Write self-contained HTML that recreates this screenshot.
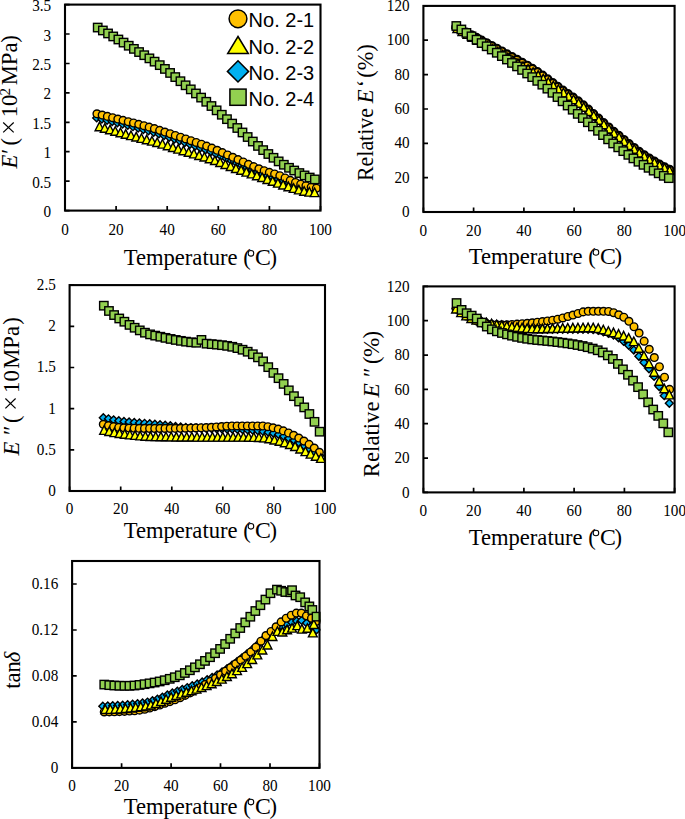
<!DOCTYPE html><html><head><meta charset="utf-8"><style>html,body{margin:0;padding:0;background:#fff;}svg{display:block;}</style></head><body>
<svg width="685" height="819" viewBox="0 0 685 819">
<rect width="685" height="819" fill="#fff"/>
<clipPath id="c1"><rect x="64.0" y="3.6" width="257.5" height="208.0"/></clipPath>
<g clip-path="url(#c1)">
<path d="M96.68 113.95L100.63 117.90L96.68 121.85L92.73 117.90Z" fill="#00B0F0" stroke="#000" stroke-width="1.4" stroke-linejoin="miter"/>
<path d="M101.87 115.11L105.82 119.06L101.87 123.01L97.92 119.06Z" fill="#00B0F0" stroke="#000" stroke-width="1.4" stroke-linejoin="miter"/>
<path d="M107.05 116.31L111.00 120.26L107.05 124.21L103.10 120.26Z" fill="#00B0F0" stroke="#000" stroke-width="1.4" stroke-linejoin="miter"/>
<path d="M112.23 117.53L116.18 121.48L112.23 125.43L108.28 121.48Z" fill="#00B0F0" stroke="#000" stroke-width="1.4" stroke-linejoin="miter"/>
<path d="M117.41 118.79L121.36 122.74L117.41 126.69L113.46 122.74Z" fill="#00B0F0" stroke="#000" stroke-width="1.4" stroke-linejoin="miter"/>
<path d="M122.60 120.07L126.55 124.02L122.60 127.97L118.65 124.02Z" fill="#00B0F0" stroke="#000" stroke-width="1.4" stroke-linejoin="miter"/>
<path d="M127.78 121.39L131.73 125.34L127.78 129.29L123.83 125.34Z" fill="#00B0F0" stroke="#000" stroke-width="1.4" stroke-linejoin="miter"/>
<path d="M132.96 122.72L136.91 126.67L132.96 130.62L129.01 126.67Z" fill="#00B0F0" stroke="#000" stroke-width="1.4" stroke-linejoin="miter"/>
<path d="M138.15 124.09L142.10 128.04L138.15 131.99L134.20 128.04Z" fill="#00B0F0" stroke="#000" stroke-width="1.4" stroke-linejoin="miter"/>
<path d="M143.33 125.49L147.28 129.44L143.33 133.39L139.38 129.44Z" fill="#00B0F0" stroke="#000" stroke-width="1.4" stroke-linejoin="miter"/>
<path d="M148.51 126.92L152.46 130.87L148.51 134.82L144.56 130.87Z" fill="#00B0F0" stroke="#000" stroke-width="1.4" stroke-linejoin="miter"/>
<path d="M153.69 128.40L157.64 132.35L153.69 136.30L149.75 132.35Z" fill="#00B0F0" stroke="#000" stroke-width="1.4" stroke-linejoin="miter"/>
<path d="M158.88 129.94L162.83 133.89L158.88 137.84L154.93 133.89Z" fill="#00B0F0" stroke="#000" stroke-width="1.4" stroke-linejoin="miter"/>
<path d="M164.06 131.55L168.01 135.50L164.06 139.45L160.11 135.50Z" fill="#00B0F0" stroke="#000" stroke-width="1.4" stroke-linejoin="miter"/>
<path d="M169.24 133.25L173.19 137.20L169.24 141.15L165.29 137.20Z" fill="#00B0F0" stroke="#000" stroke-width="1.4" stroke-linejoin="miter"/>
<path d="M174.43 135.00L178.38 138.95L174.43 142.90L170.48 138.95Z" fill="#00B0F0" stroke="#000" stroke-width="1.4" stroke-linejoin="miter"/>
<path d="M179.61 136.78L183.56 140.73L179.61 144.68L175.66 140.73Z" fill="#00B0F0" stroke="#000" stroke-width="1.4" stroke-linejoin="miter"/>
<path d="M184.79 138.54L188.74 142.49L184.79 146.44L180.84 142.49Z" fill="#00B0F0" stroke="#000" stroke-width="1.4" stroke-linejoin="miter"/>
<path d="M189.98 140.31L193.93 144.26L189.98 148.21L186.03 144.26Z" fill="#00B0F0" stroke="#000" stroke-width="1.4" stroke-linejoin="miter"/>
<path d="M195.16 142.10L199.11 146.05L195.16 150.00L191.21 146.05Z" fill="#00B0F0" stroke="#000" stroke-width="1.4" stroke-linejoin="miter"/>
<path d="M200.34 143.93L204.29 147.88L200.34 151.83L196.39 147.88Z" fill="#00B0F0" stroke="#000" stroke-width="1.4" stroke-linejoin="miter"/>
<path d="M205.52 145.83L209.47 149.78L205.52 153.73L201.57 149.78Z" fill="#00B0F0" stroke="#000" stroke-width="1.4" stroke-linejoin="miter"/>
<path d="M210.71 147.83L214.66 151.78L210.71 155.73L206.76 151.78Z" fill="#00B0F0" stroke="#000" stroke-width="1.4" stroke-linejoin="miter"/>
<path d="M215.89 149.97L219.84 153.92L215.89 157.87L211.94 153.92Z" fill="#00B0F0" stroke="#000" stroke-width="1.4" stroke-linejoin="miter"/>
<path d="M221.07 152.24L225.02 156.19L221.07 160.14L217.12 156.19Z" fill="#00B0F0" stroke="#000" stroke-width="1.4" stroke-linejoin="miter"/>
<path d="M226.26 154.57L230.21 158.52L226.26 162.47L222.31 158.52Z" fill="#00B0F0" stroke="#000" stroke-width="1.4" stroke-linejoin="miter"/>
<path d="M231.44 156.89L235.39 160.84L231.44 164.79L227.49 160.84Z" fill="#00B0F0" stroke="#000" stroke-width="1.4" stroke-linejoin="miter"/>
<path d="M236.62 159.16L240.57 163.11L236.62 167.06L232.67 163.11Z" fill="#00B0F0" stroke="#000" stroke-width="1.4" stroke-linejoin="miter"/>
<path d="M241.81 161.44L245.76 165.39L241.81 169.34L237.86 165.39Z" fill="#00B0F0" stroke="#000" stroke-width="1.4" stroke-linejoin="miter"/>
<path d="M246.99 163.73L250.94 167.68L246.99 171.63L243.04 167.68Z" fill="#00B0F0" stroke="#000" stroke-width="1.4" stroke-linejoin="miter"/>
<path d="M252.17 165.98L256.12 169.93L252.17 173.88L248.22 169.93Z" fill="#00B0F0" stroke="#000" stroke-width="1.4" stroke-linejoin="miter"/>
<path d="M257.36 168.10L261.31 172.05L257.36 176.00L253.41 172.05Z" fill="#00B0F0" stroke="#000" stroke-width="1.4" stroke-linejoin="miter"/>
<path d="M262.54 170.02L266.49 173.97L262.54 177.92L258.59 173.97Z" fill="#00B0F0" stroke="#000" stroke-width="1.4" stroke-linejoin="miter"/>
<path d="M267.72 171.77L271.67 175.72L267.72 179.67L263.77 175.72Z" fill="#00B0F0" stroke="#000" stroke-width="1.4" stroke-linejoin="miter"/>
<path d="M272.90 173.42L276.85 177.37L272.90 181.32L268.95 177.37Z" fill="#00B0F0" stroke="#000" stroke-width="1.4" stroke-linejoin="miter"/>
<path d="M278.09 175.03L282.04 178.98L278.09 182.93L274.14 178.98Z" fill="#00B0F0" stroke="#000" stroke-width="1.4" stroke-linejoin="miter"/>
<path d="M283.27 176.70L287.22 180.65L283.27 184.60L279.32 180.65Z" fill="#00B0F0" stroke="#000" stroke-width="1.4" stroke-linejoin="miter"/>
<path d="M288.45 178.42L292.40 182.37L288.45 186.32L284.50 182.37Z" fill="#00B0F0" stroke="#000" stroke-width="1.4" stroke-linejoin="miter"/>
<path d="M293.64 180.13L297.59 184.08L293.64 188.03L289.69 184.08Z" fill="#00B0F0" stroke="#000" stroke-width="1.4" stroke-linejoin="miter"/>
<path d="M298.82 181.74L302.77 185.69L298.82 189.64L294.87 185.69Z" fill="#00B0F0" stroke="#000" stroke-width="1.4" stroke-linejoin="miter"/>
<path d="M304.00 183.25L307.95 187.20L304.00 191.15L300.05 187.20Z" fill="#00B0F0" stroke="#000" stroke-width="1.4" stroke-linejoin="miter"/>
<path d="M309.19 184.69L313.13 188.64L309.19 192.59L305.24 188.64Z" fill="#00B0F0" stroke="#000" stroke-width="1.4" stroke-linejoin="miter"/>
<path d="M314.37 186.05L318.32 190.00L314.37 193.95L310.42 190.00Z" fill="#00B0F0" stroke="#000" stroke-width="1.4" stroke-linejoin="miter"/>
<circle cx="96.94" cy="113.78" r="3.85" fill="#FFC000" stroke="#000" stroke-width="1.4"/>
<circle cx="102.16" cy="115.08" r="3.85" fill="#FFC000" stroke="#000" stroke-width="1.4"/>
<circle cx="107.39" cy="116.38" r="3.85" fill="#FFC000" stroke="#000" stroke-width="1.4"/>
<circle cx="112.61" cy="117.70" r="3.85" fill="#FFC000" stroke="#000" stroke-width="1.4"/>
<circle cx="117.84" cy="119.03" r="3.85" fill="#FFC000" stroke="#000" stroke-width="1.4"/>
<circle cx="123.07" cy="120.37" r="3.85" fill="#FFC000" stroke="#000" stroke-width="1.4"/>
<circle cx="128.29" cy="121.70" r="3.85" fill="#FFC000" stroke="#000" stroke-width="1.4"/>
<circle cx="133.52" cy="123.02" r="3.85" fill="#FFC000" stroke="#000" stroke-width="1.4"/>
<circle cx="138.74" cy="124.35" r="3.85" fill="#FFC000" stroke="#000" stroke-width="1.4"/>
<circle cx="143.97" cy="125.71" r="3.85" fill="#FFC000" stroke="#000" stroke-width="1.4"/>
<circle cx="149.19" cy="127.14" r="3.85" fill="#FFC000" stroke="#000" stroke-width="1.4"/>
<circle cx="154.42" cy="128.66" r="3.85" fill="#FFC000" stroke="#000" stroke-width="1.4"/>
<circle cx="159.64" cy="130.35" r="3.85" fill="#FFC000" stroke="#000" stroke-width="1.4"/>
<circle cx="164.87" cy="132.05" r="3.85" fill="#FFC000" stroke="#000" stroke-width="1.4"/>
<circle cx="170.10" cy="133.75" r="3.85" fill="#FFC000" stroke="#000" stroke-width="1.4"/>
<circle cx="175.32" cy="135.48" r="3.85" fill="#FFC000" stroke="#000" stroke-width="1.4"/>
<circle cx="180.55" cy="137.22" r="3.85" fill="#FFC000" stroke="#000" stroke-width="1.4"/>
<circle cx="185.77" cy="138.96" r="3.85" fill="#FFC000" stroke="#000" stroke-width="1.4"/>
<circle cx="191.00" cy="140.68" r="3.85" fill="#FFC000" stroke="#000" stroke-width="1.4"/>
<circle cx="196.22" cy="142.43" r="3.85" fill="#FFC000" stroke="#000" stroke-width="1.4"/>
<circle cx="201.45" cy="144.23" r="3.85" fill="#FFC000" stroke="#000" stroke-width="1.4"/>
<circle cx="206.67" cy="146.12" r="3.85" fill="#FFC000" stroke="#000" stroke-width="1.4"/>
<circle cx="211.90" cy="148.13" r="3.85" fill="#FFC000" stroke="#000" stroke-width="1.4"/>
<circle cx="217.13" cy="150.30" r="3.85" fill="#FFC000" stroke="#000" stroke-width="1.4"/>
<circle cx="222.35" cy="152.60" r="3.85" fill="#FFC000" stroke="#000" stroke-width="1.4"/>
<circle cx="227.58" cy="154.96" r="3.85" fill="#FFC000" stroke="#000" stroke-width="1.4"/>
<circle cx="232.80" cy="157.31" r="3.85" fill="#FFC000" stroke="#000" stroke-width="1.4"/>
<circle cx="238.03" cy="159.62" r="3.85" fill="#FFC000" stroke="#000" stroke-width="1.4"/>
<circle cx="243.25" cy="161.98" r="3.85" fill="#FFC000" stroke="#000" stroke-width="1.4"/>
<circle cx="248.48" cy="164.36" r="3.85" fill="#FFC000" stroke="#000" stroke-width="1.4"/>
<circle cx="253.71" cy="166.66" r="3.85" fill="#FFC000" stroke="#000" stroke-width="1.4"/>
<circle cx="258.93" cy="168.81" r="3.85" fill="#FFC000" stroke="#000" stroke-width="1.4"/>
<circle cx="264.16" cy="170.71" r="3.85" fill="#FFC000" stroke="#000" stroke-width="1.4"/>
<circle cx="269.38" cy="172.38" r="3.85" fill="#FFC000" stroke="#000" stroke-width="1.4"/>
<circle cx="274.61" cy="174.00" r="3.85" fill="#FFC000" stroke="#000" stroke-width="1.4"/>
<circle cx="279.83" cy="175.77" r="3.85" fill="#FFC000" stroke="#000" stroke-width="1.4"/>
<circle cx="285.06" cy="177.94" r="3.85" fill="#FFC000" stroke="#000" stroke-width="1.4"/>
<circle cx="290.28" cy="180.39" r="3.85" fill="#FFC000" stroke="#000" stroke-width="1.4"/>
<circle cx="295.51" cy="182.46" r="3.85" fill="#FFC000" stroke="#000" stroke-width="1.4"/>
<circle cx="300.74" cy="184.23" r="3.85" fill="#FFC000" stroke="#000" stroke-width="1.4"/>
<circle cx="305.96" cy="185.74" r="3.85" fill="#FFC000" stroke="#000" stroke-width="1.4"/>
<circle cx="311.19" cy="187.10" r="3.85" fill="#FFC000" stroke="#000" stroke-width="1.4"/>
<circle cx="316.41" cy="188.23" r="3.85" fill="#FFC000" stroke="#000" stroke-width="1.4"/>
<path d="M99.49 122.13L103.89 130.73L95.09 130.73Z" fill="#FFFF00" stroke="#000" stroke-width="1.4" stroke-linejoin="miter"/>
<path d="M104.74 123.67L109.14 132.27L100.34 132.27Z" fill="#FFFF00" stroke="#000" stroke-width="1.4" stroke-linejoin="miter"/>
<path d="M109.99 125.19L114.39 133.79L105.59 133.79Z" fill="#FFFF00" stroke="#000" stroke-width="1.4" stroke-linejoin="miter"/>
<path d="M115.23 126.68L119.63 135.28L110.83 135.28Z" fill="#FFFF00" stroke="#000" stroke-width="1.4" stroke-linejoin="miter"/>
<path d="M120.48 128.16L124.88 136.76L116.08 136.76Z" fill="#FFFF00" stroke="#000" stroke-width="1.4" stroke-linejoin="miter"/>
<path d="M125.73 129.62L130.13 138.22L121.33 138.22Z" fill="#FFFF00" stroke="#000" stroke-width="1.4" stroke-linejoin="miter"/>
<path d="M130.98 131.04L135.38 139.64L126.58 139.64Z" fill="#FFFF00" stroke="#000" stroke-width="1.4" stroke-linejoin="miter"/>
<path d="M136.22 132.41L140.62 141.01L131.82 141.01Z" fill="#FFFF00" stroke="#000" stroke-width="1.4" stroke-linejoin="miter"/>
<path d="M141.47 133.76L145.87 142.36L137.07 142.36Z" fill="#FFFF00" stroke="#000" stroke-width="1.4" stroke-linejoin="miter"/>
<path d="M146.72 135.11L151.12 143.71L142.32 143.71Z" fill="#FFFF00" stroke="#000" stroke-width="1.4" stroke-linejoin="miter"/>
<path d="M151.96 136.50L156.36 145.10L147.56 145.10Z" fill="#FFFF00" stroke="#000" stroke-width="1.4" stroke-linejoin="miter"/>
<path d="M157.21 137.95L161.61 146.55L152.81 146.55Z" fill="#FFFF00" stroke="#000" stroke-width="1.4" stroke-linejoin="miter"/>
<path d="M162.46 139.49L166.86 148.09L158.06 148.09Z" fill="#FFFF00" stroke="#000" stroke-width="1.4" stroke-linejoin="miter"/>
<path d="M167.70 141.14L172.10 149.74L163.30 149.74Z" fill="#FFFF00" stroke="#000" stroke-width="1.4" stroke-linejoin="miter"/>
<path d="M172.95 142.84L177.35 151.44L168.55 151.44Z" fill="#FFFF00" stroke="#000" stroke-width="1.4" stroke-linejoin="miter"/>
<path d="M178.20 144.53L182.60 153.13L173.80 153.13Z" fill="#FFFF00" stroke="#000" stroke-width="1.4" stroke-linejoin="miter"/>
<path d="M183.45 146.15L187.85 154.75L179.05 154.75Z" fill="#FFFF00" stroke="#000" stroke-width="1.4" stroke-linejoin="miter"/>
<path d="M188.69 147.72L193.09 156.32L184.29 156.32Z" fill="#FFFF00" stroke="#000" stroke-width="1.4" stroke-linejoin="miter"/>
<path d="M193.94 149.27L198.34 157.87L189.54 157.87Z" fill="#FFFF00" stroke="#000" stroke-width="1.4" stroke-linejoin="miter"/>
<path d="M199.19 150.84L203.59 159.44L194.79 159.44Z" fill="#FFFF00" stroke="#000" stroke-width="1.4" stroke-linejoin="miter"/>
<path d="M204.43 152.45L208.83 161.05L200.03 161.05Z" fill="#FFFF00" stroke="#000" stroke-width="1.4" stroke-linejoin="miter"/>
<path d="M209.68 154.15L214.08 162.75L205.28 162.75Z" fill="#FFFF00" stroke="#000" stroke-width="1.4" stroke-linejoin="miter"/>
<path d="M214.93 155.97L219.33 164.57L210.53 164.57Z" fill="#FFFF00" stroke="#000" stroke-width="1.4" stroke-linejoin="miter"/>
<path d="M220.18 157.91L224.58 166.51L215.78 166.51Z" fill="#FFFF00" stroke="#000" stroke-width="1.4" stroke-linejoin="miter"/>
<path d="M225.42 159.90L229.82 168.50L221.02 168.50Z" fill="#FFFF00" stroke="#000" stroke-width="1.4" stroke-linejoin="miter"/>
<path d="M230.67 161.89L235.07 170.49L226.27 170.49Z" fill="#FFFF00" stroke="#000" stroke-width="1.4" stroke-linejoin="miter"/>
<path d="M235.92 163.83L240.32 172.43L231.52 172.43Z" fill="#FFFF00" stroke="#000" stroke-width="1.4" stroke-linejoin="miter"/>
<path d="M241.16 165.69L245.56 174.29L236.76 174.29Z" fill="#FFFF00" stroke="#000" stroke-width="1.4" stroke-linejoin="miter"/>
<path d="M246.41 167.51L250.81 176.11L242.01 176.11Z" fill="#FFFF00" stroke="#000" stroke-width="1.4" stroke-linejoin="miter"/>
<path d="M251.66 169.32L256.06 177.92L247.26 177.92Z" fill="#FFFF00" stroke="#000" stroke-width="1.4" stroke-linejoin="miter"/>
<path d="M256.91 171.13L261.31 179.73L252.51 179.73Z" fill="#FFFF00" stroke="#000" stroke-width="1.4" stroke-linejoin="miter"/>
<path d="M262.15 172.96L266.55 181.56L257.75 181.56Z" fill="#FFFF00" stroke="#000" stroke-width="1.4" stroke-linejoin="miter"/>
<path d="M267.40 174.83L271.80 183.43L263.00 183.43Z" fill="#FFFF00" stroke="#000" stroke-width="1.4" stroke-linejoin="miter"/>
<path d="M272.65 176.71L277.05 185.31L268.25 185.31Z" fill="#FFFF00" stroke="#000" stroke-width="1.4" stroke-linejoin="miter"/>
<path d="M277.89 178.56L282.29 187.16L273.49 187.16Z" fill="#FFFF00" stroke="#000" stroke-width="1.4" stroke-linejoin="miter"/>
<path d="M283.14 180.35L287.54 188.95L278.74 188.95Z" fill="#FFFF00" stroke="#000" stroke-width="1.4" stroke-linejoin="miter"/>
<path d="M288.39 182.11L292.79 190.71L283.99 190.71Z" fill="#FFFF00" stroke="#000" stroke-width="1.4" stroke-linejoin="miter"/>
<path d="M293.64 183.79L298.04 192.39L289.24 192.39Z" fill="#FFFF00" stroke="#000" stroke-width="1.4" stroke-linejoin="miter"/>
<path d="M298.88 185.31L303.28 193.91L294.48 193.91Z" fill="#FFFF00" stroke="#000" stroke-width="1.4" stroke-linejoin="miter"/>
<path d="M304.13 186.68L308.53 195.28L299.73 195.28Z" fill="#FFFF00" stroke="#000" stroke-width="1.4" stroke-linejoin="miter"/>
<path d="M309.38 187.55L313.78 196.15L304.98 196.15Z" fill="#FFFF00" stroke="#000" stroke-width="1.4" stroke-linejoin="miter"/>
<path d="M314.62 188.05L319.02 196.65L310.22 196.65Z" fill="#FFFF00" stroke="#000" stroke-width="1.4" stroke-linejoin="miter"/>
<rect x="93.50" y="23.35" width="8.40" height="8.40" fill="#92D050" stroke="#000" stroke-width="1.4"/>
<rect x="98.67" y="26.28" width="8.40" height="8.40" fill="#92D050" stroke="#000" stroke-width="1.4"/>
<rect x="103.85" y="29.25" width="8.40" height="8.40" fill="#92D050" stroke="#000" stroke-width="1.4"/>
<rect x="109.02" y="32.25" width="8.40" height="8.40" fill="#92D050" stroke="#000" stroke-width="1.4"/>
<rect x="114.19" y="35.30" width="8.40" height="8.40" fill="#92D050" stroke="#000" stroke-width="1.4"/>
<rect x="119.36" y="38.39" width="8.40" height="8.40" fill="#92D050" stroke="#000" stroke-width="1.4"/>
<rect x="124.53" y="41.52" width="8.40" height="8.40" fill="#92D050" stroke="#000" stroke-width="1.4"/>
<rect x="129.70" y="44.68" width="8.40" height="8.40" fill="#92D050" stroke="#000" stroke-width="1.4"/>
<rect x="134.87" y="47.86" width="8.40" height="8.40" fill="#92D050" stroke="#000" stroke-width="1.4"/>
<rect x="140.04" y="50.99" width="8.40" height="8.40" fill="#92D050" stroke="#000" stroke-width="1.4"/>
<rect x="145.21" y="54.16" width="8.40" height="8.40" fill="#92D050" stroke="#000" stroke-width="1.4"/>
<rect x="150.38" y="57.45" width="8.40" height="8.40" fill="#92D050" stroke="#000" stroke-width="1.4"/>
<rect x="155.55" y="60.94" width="8.40" height="8.40" fill="#92D050" stroke="#000" stroke-width="1.4"/>
<rect x="160.72" y="64.73" width="8.40" height="8.40" fill="#92D050" stroke="#000" stroke-width="1.4"/>
<rect x="165.90" y="68.75" width="8.40" height="8.40" fill="#92D050" stroke="#000" stroke-width="1.4"/>
<rect x="171.07" y="72.88" width="8.40" height="8.40" fill="#92D050" stroke="#000" stroke-width="1.4"/>
<rect x="176.24" y="77.02" width="8.40" height="8.40" fill="#92D050" stroke="#000" stroke-width="1.4"/>
<rect x="181.41" y="81.10" width="8.40" height="8.40" fill="#92D050" stroke="#000" stroke-width="1.4"/>
<rect x="186.58" y="85.17" width="8.40" height="8.40" fill="#92D050" stroke="#000" stroke-width="1.4"/>
<rect x="191.75" y="89.26" width="8.40" height="8.40" fill="#92D050" stroke="#000" stroke-width="1.4"/>
<rect x="196.92" y="93.39" width="8.40" height="8.40" fill="#92D050" stroke="#000" stroke-width="1.4"/>
<rect x="202.09" y="97.57" width="8.40" height="8.40" fill="#92D050" stroke="#000" stroke-width="1.4"/>
<rect x="207.26" y="101.82" width="8.40" height="8.40" fill="#92D050" stroke="#000" stroke-width="1.4"/>
<rect x="212.43" y="106.15" width="8.40" height="8.40" fill="#92D050" stroke="#000" stroke-width="1.4"/>
<rect x="217.60" y="110.54" width="8.40" height="8.40" fill="#92D050" stroke="#000" stroke-width="1.4"/>
<rect x="222.77" y="114.97" width="8.40" height="8.40" fill="#92D050" stroke="#000" stroke-width="1.4"/>
<rect x="227.95" y="119.39" width="8.40" height="8.40" fill="#92D050" stroke="#000" stroke-width="1.4"/>
<rect x="233.12" y="123.79" width="8.40" height="8.40" fill="#92D050" stroke="#000" stroke-width="1.4"/>
<rect x="238.29" y="128.27" width="8.40" height="8.40" fill="#92D050" stroke="#000" stroke-width="1.4"/>
<rect x="243.46" y="132.82" width="8.40" height="8.40" fill="#92D050" stroke="#000" stroke-width="1.4"/>
<rect x="248.63" y="137.34" width="8.40" height="8.40" fill="#92D050" stroke="#000" stroke-width="1.4"/>
<rect x="253.80" y="141.73" width="8.40" height="8.40" fill="#92D050" stroke="#000" stroke-width="1.4"/>
<rect x="258.97" y="145.91" width="8.40" height="8.40" fill="#92D050" stroke="#000" stroke-width="1.4"/>
<rect x="264.14" y="149.81" width="8.40" height="8.40" fill="#92D050" stroke="#000" stroke-width="1.4"/>
<rect x="269.31" y="153.58" width="8.40" height="8.40" fill="#92D050" stroke="#000" stroke-width="1.4"/>
<rect x="274.48" y="157.19" width="8.40" height="8.40" fill="#92D050" stroke="#000" stroke-width="1.4"/>
<rect x="279.65" y="160.55" width="8.40" height="8.40" fill="#92D050" stroke="#000" stroke-width="1.4"/>
<rect x="284.82" y="163.58" width="8.40" height="8.40" fill="#92D050" stroke="#000" stroke-width="1.4"/>
<rect x="290.00" y="166.31" width="8.40" height="8.40" fill="#92D050" stroke="#000" stroke-width="1.4"/>
<rect x="295.17" y="168.86" width="8.40" height="8.40" fill="#92D050" stroke="#000" stroke-width="1.4"/>
<rect x="300.34" y="171.22" width="8.40" height="8.40" fill="#92D050" stroke="#000" stroke-width="1.4"/>
<rect x="305.51" y="173.34" width="8.40" height="8.40" fill="#92D050" stroke="#000" stroke-width="1.4"/>
<rect x="310.68" y="175.21" width="8.40" height="8.40" fill="#92D050" stroke="#000" stroke-width="1.4"/>
</g>
<path d="M65.0 210.6h4.6M65.0 181.2h4.6M65.0 151.7h4.6M65.0 122.3h4.6M65.0 92.9h4.6M65.0 63.5h4.6M65.0 34.0h4.6M65.0 4.6h4.6M65.0 210.6v-4.6M116.1 210.6v-4.6M167.2 210.6v-4.6M218.3 210.6v-4.6M269.4 210.6v-4.6M320.5 210.6v-4.6" stroke="#000" stroke-width="1.7" fill="none"/>
<rect x="65.0" y="4.6" width="255.5" height="206.0" fill="none" stroke="#000" stroke-width="2.1"/>
<text transform="translate(51.20,217.10) scale(0.97,1)" text-anchor="end" font-family='"Liberation Serif", serif' font-size="15.7">0</text>
<text transform="translate(51.20,187.67) scale(0.97,1)" text-anchor="end" font-family='"Liberation Serif", serif' font-size="15.7">0.5</text>
<text transform="translate(51.20,158.24) scale(0.97,1)" text-anchor="end" font-family='"Liberation Serif", serif' font-size="15.7">1</text>
<text transform="translate(51.20,128.81) scale(0.97,1)" text-anchor="end" font-family='"Liberation Serif", serif' font-size="15.7">1.5</text>
<text transform="translate(51.20,99.39) scale(0.97,1)" text-anchor="end" font-family='"Liberation Serif", serif' font-size="15.7">2</text>
<text transform="translate(51.20,69.96) scale(0.97,1)" text-anchor="end" font-family='"Liberation Serif", serif' font-size="15.7">2.5</text>
<text transform="translate(51.20,40.53) scale(0.97,1)" text-anchor="end" font-family='"Liberation Serif", serif' font-size="15.7">3</text>
<text transform="translate(51.20,11.10) scale(0.97,1)" text-anchor="end" font-family='"Liberation Serif", serif' font-size="15.7">3.5</text>
<text transform="translate(65.00,235.10) scale(0.97,1)" text-anchor="middle" font-family='"Liberation Serif", serif' font-size="15.7">0</text>
<text transform="translate(116.10,235.10) scale(0.97,1)" text-anchor="middle" font-family='"Liberation Serif", serif' font-size="15.7">20</text>
<text transform="translate(167.20,235.10) scale(0.97,1)" text-anchor="middle" font-family='"Liberation Serif", serif' font-size="15.7">40</text>
<text transform="translate(218.30,235.10) scale(0.97,1)" text-anchor="middle" font-family='"Liberation Serif", serif' font-size="15.7">60</text>
<text transform="translate(269.40,235.10) scale(0.97,1)" text-anchor="middle" font-family='"Liberation Serif", serif' font-size="15.7">80</text>
<text transform="translate(320.50,235.10) scale(0.97,1)" text-anchor="middle" font-family='"Liberation Serif", serif' font-size="15.7">100</text>
<text x="123.7" y="265.1" font-family='"Liberation Serif", serif' font-size="22.6">Temperature (</text>
<circle cx="250.95" cy="253.30" r="2.8" fill="none" stroke="#000" stroke-width="1.05"/>
<text x="254.90" y="265.1" font-family='"Liberation Serif", serif' font-size="23.8">C</text>
<text x="269.40" y="265.1" font-family='"Liberation Serif", serif' font-size="22.6">)</text>
<clipPath id="c2"><rect x="422.4" y="4.9" width="253.2" height="208.1"/></clipPath>
<g clip-path="url(#c2)">
<path d="M456.06 24.28L460.01 28.23L456.06 32.18L452.11 28.23Z" fill="#00B0F0" stroke="#000" stroke-width="1.4" stroke-linejoin="miter"/>
<path d="M461.14 27.27L465.09 31.22L461.14 35.17L457.19 31.22Z" fill="#00B0F0" stroke="#000" stroke-width="1.4" stroke-linejoin="miter"/>
<path d="M466.22 30.25L470.17 34.20L466.22 38.15L462.27 34.20Z" fill="#00B0F0" stroke="#000" stroke-width="1.4" stroke-linejoin="miter"/>
<path d="M471.31 33.22L475.26 37.17L471.31 41.12L467.36 37.17Z" fill="#00B0F0" stroke="#000" stroke-width="1.4" stroke-linejoin="miter"/>
<path d="M476.39 36.19L480.34 40.14L476.39 44.09L472.44 40.14Z" fill="#00B0F0" stroke="#000" stroke-width="1.4" stroke-linejoin="miter"/>
<path d="M481.48 39.15L485.43 43.10L481.48 47.05L477.53 43.10Z" fill="#00B0F0" stroke="#000" stroke-width="1.4" stroke-linejoin="miter"/>
<path d="M486.56 42.11L490.51 46.06L486.56 50.01L482.61 46.06Z" fill="#00B0F0" stroke="#000" stroke-width="1.4" stroke-linejoin="miter"/>
<path d="M491.64 45.06L495.59 49.01L491.64 52.96L487.69 49.01Z" fill="#00B0F0" stroke="#000" stroke-width="1.4" stroke-linejoin="miter"/>
<path d="M496.73 48.00L500.68 51.95L496.73 55.90L492.78 51.95Z" fill="#00B0F0" stroke="#000" stroke-width="1.4" stroke-linejoin="miter"/>
<path d="M501.81 50.93L505.76 54.88L501.81 58.83L497.86 54.88Z" fill="#00B0F0" stroke="#000" stroke-width="1.4" stroke-linejoin="miter"/>
<path d="M506.89 53.79L510.84 57.74L506.89 61.69L502.94 57.74Z" fill="#00B0F0" stroke="#000" stroke-width="1.4" stroke-linejoin="miter"/>
<path d="M511.98 56.62L515.93 60.57L511.98 64.52L508.03 60.57Z" fill="#00B0F0" stroke="#000" stroke-width="1.4" stroke-linejoin="miter"/>
<path d="M517.06 59.44L521.01 63.39L517.06 67.34L513.11 63.39Z" fill="#00B0F0" stroke="#000" stroke-width="1.4" stroke-linejoin="miter"/>
<path d="M522.15 62.30L526.10 66.25L522.15 70.20L518.20 66.25Z" fill="#00B0F0" stroke="#000" stroke-width="1.4" stroke-linejoin="miter"/>
<path d="M527.23 65.22L531.18 69.17L527.23 73.12L523.28 69.17Z" fill="#00B0F0" stroke="#000" stroke-width="1.4" stroke-linejoin="miter"/>
<path d="M532.31 68.25L536.26 72.20L532.31 76.15L528.36 72.20Z" fill="#00B0F0" stroke="#000" stroke-width="1.4" stroke-linejoin="miter"/>
<path d="M537.40 71.42L541.35 75.37L537.40 79.32L533.45 75.37Z" fill="#00B0F0" stroke="#000" stroke-width="1.4" stroke-linejoin="miter"/>
<path d="M542.48 74.78L546.43 78.73L542.48 82.68L538.53 78.73Z" fill="#00B0F0" stroke="#000" stroke-width="1.4" stroke-linejoin="miter"/>
<path d="M547.56 78.30L551.51 82.25L547.56 86.20L543.61 82.25Z" fill="#00B0F0" stroke="#000" stroke-width="1.4" stroke-linejoin="miter"/>
<path d="M552.65 81.90L556.60 85.85L552.65 89.80L548.70 85.85Z" fill="#00B0F0" stroke="#000" stroke-width="1.4" stroke-linejoin="miter"/>
<path d="M557.73 85.50L561.68 89.45L557.73 93.40L553.78 89.45Z" fill="#00B0F0" stroke="#000" stroke-width="1.4" stroke-linejoin="miter"/>
<path d="M562.82 89.03L566.77 92.98L562.82 96.93L558.87 92.98Z" fill="#00B0F0" stroke="#000" stroke-width="1.4" stroke-linejoin="miter"/>
<path d="M567.90 92.42L571.85 96.37L567.90 100.32L563.95 96.37Z" fill="#00B0F0" stroke="#000" stroke-width="1.4" stroke-linejoin="miter"/>
<path d="M572.98 95.85L576.93 99.80L572.98 103.75L569.03 99.80Z" fill="#00B0F0" stroke="#000" stroke-width="1.4" stroke-linejoin="miter"/>
<path d="M578.07 99.51L582.02 103.46L578.07 107.41L574.12 103.46Z" fill="#00B0F0" stroke="#000" stroke-width="1.4" stroke-linejoin="miter"/>
<path d="M583.15 103.48L587.10 107.43L583.15 111.38L579.20 107.43Z" fill="#00B0F0" stroke="#000" stroke-width="1.4" stroke-linejoin="miter"/>
<path d="M588.24 107.67L592.19 111.62L588.24 115.57L584.29 111.62Z" fill="#00B0F0" stroke="#000" stroke-width="1.4" stroke-linejoin="miter"/>
<path d="M593.32 112.02L597.27 115.97L593.32 119.92L589.37 115.97Z" fill="#00B0F0" stroke="#000" stroke-width="1.4" stroke-linejoin="miter"/>
<path d="M598.40 116.46L602.35 120.41L598.40 124.36L594.45 120.41Z" fill="#00B0F0" stroke="#000" stroke-width="1.4" stroke-linejoin="miter"/>
<path d="M603.49 120.92L607.44 124.87L603.49 128.82L599.54 124.87Z" fill="#00B0F0" stroke="#000" stroke-width="1.4" stroke-linejoin="miter"/>
<path d="M608.57 125.32L612.52 129.27L608.57 133.22L604.62 129.27Z" fill="#00B0F0" stroke="#000" stroke-width="1.4" stroke-linejoin="miter"/>
<path d="M613.65 129.61L617.60 133.56L613.65 137.51L609.70 133.56Z" fill="#00B0F0" stroke="#000" stroke-width="1.4" stroke-linejoin="miter"/>
<path d="M618.74 133.72L622.69 137.67L618.74 141.62L614.79 137.67Z" fill="#00B0F0" stroke="#000" stroke-width="1.4" stroke-linejoin="miter"/>
<path d="M623.82 137.77L627.77 141.72L623.82 145.67L619.87 141.72Z" fill="#00B0F0" stroke="#000" stroke-width="1.4" stroke-linejoin="miter"/>
<path d="M628.91 141.80L632.86 145.75L628.91 149.70L624.96 145.75Z" fill="#00B0F0" stroke="#000" stroke-width="1.4" stroke-linejoin="miter"/>
<path d="M633.99 145.72L637.94 149.67L633.99 153.62L630.04 149.67Z" fill="#00B0F0" stroke="#000" stroke-width="1.4" stroke-linejoin="miter"/>
<path d="M639.07 149.44L643.02 153.39L639.07 157.34L635.12 153.39Z" fill="#00B0F0" stroke="#000" stroke-width="1.4" stroke-linejoin="miter"/>
<path d="M644.16 152.90L648.11 156.85L644.16 160.80L640.21 156.85Z" fill="#00B0F0" stroke="#000" stroke-width="1.4" stroke-linejoin="miter"/>
<path d="M649.24 156.10L653.19 160.05L649.24 164.00L645.29 160.05Z" fill="#00B0F0" stroke="#000" stroke-width="1.4" stroke-linejoin="miter"/>
<path d="M654.32 159.14L658.27 163.09L654.32 167.04L650.37 163.09Z" fill="#00B0F0" stroke="#000" stroke-width="1.4" stroke-linejoin="miter"/>
<path d="M659.41 162.01L663.36 165.96L659.41 169.91L655.46 165.96Z" fill="#00B0F0" stroke="#000" stroke-width="1.4" stroke-linejoin="miter"/>
<path d="M664.49 164.70L668.44 168.65L664.49 172.60L660.54 168.65Z" fill="#00B0F0" stroke="#000" stroke-width="1.4" stroke-linejoin="miter"/>
<path d="M669.58 167.17L673.53 171.12L669.58 175.07L665.63 171.12Z" fill="#00B0F0" stroke="#000" stroke-width="1.4" stroke-linejoin="miter"/>
<circle cx="456.06" cy="27.37" r="3.85" fill="#FFC000" stroke="#000" stroke-width="2.2"/>
<circle cx="461.14" cy="29.91" r="3.85" fill="#FFC000" stroke="#000" stroke-width="2.2"/>
<circle cx="466.22" cy="32.48" r="3.85" fill="#FFC000" stroke="#000" stroke-width="2.2"/>
<circle cx="471.31" cy="35.09" r="3.85" fill="#FFC000" stroke="#000" stroke-width="2.2"/>
<circle cx="476.39" cy="37.72" r="3.85" fill="#FFC000" stroke="#000" stroke-width="2.2"/>
<circle cx="481.48" cy="40.39" r="3.85" fill="#FFC000" stroke="#000" stroke-width="2.2"/>
<circle cx="486.56" cy="43.10" r="3.85" fill="#FFC000" stroke="#000" stroke-width="2.2"/>
<circle cx="491.64" cy="45.83" r="3.85" fill="#FFC000" stroke="#000" stroke-width="2.2"/>
<circle cx="496.73" cy="48.58" r="3.85" fill="#FFC000" stroke="#000" stroke-width="2.2"/>
<circle cx="501.81" cy="51.36" r="3.85" fill="#FFC000" stroke="#000" stroke-width="2.2"/>
<circle cx="506.89" cy="54.13" r="3.85" fill="#FFC000" stroke="#000" stroke-width="2.2"/>
<circle cx="511.98" cy="56.92" r="3.85" fill="#FFC000" stroke="#000" stroke-width="2.2"/>
<circle cx="517.06" cy="59.74" r="3.85" fill="#FFC000" stroke="#000" stroke-width="2.2"/>
<circle cx="522.15" cy="62.63" r="3.85" fill="#FFC000" stroke="#000" stroke-width="2.2"/>
<circle cx="527.23" cy="65.61" r="3.85" fill="#FFC000" stroke="#000" stroke-width="2.2"/>
<circle cx="532.31" cy="68.71" r="3.85" fill="#FFC000" stroke="#000" stroke-width="2.2"/>
<circle cx="537.40" cy="71.95" r="3.85" fill="#FFC000" stroke="#000" stroke-width="2.2"/>
<circle cx="542.48" cy="75.45" r="3.85" fill="#FFC000" stroke="#000" stroke-width="2.2"/>
<circle cx="547.56" cy="79.15" r="3.85" fill="#FFC000" stroke="#000" stroke-width="2.2"/>
<circle cx="552.65" cy="82.95" r="3.85" fill="#FFC000" stroke="#000" stroke-width="2.2"/>
<circle cx="557.73" cy="86.75" r="3.85" fill="#FFC000" stroke="#000" stroke-width="2.2"/>
<circle cx="562.82" cy="90.43" r="3.85" fill="#FFC000" stroke="#000" stroke-width="2.2"/>
<circle cx="567.90" cy="93.95" r="3.85" fill="#FFC000" stroke="#000" stroke-width="2.2"/>
<circle cx="572.98" cy="97.49" r="3.85" fill="#FFC000" stroke="#000" stroke-width="2.2"/>
<circle cx="578.07" cy="101.25" r="3.85" fill="#FFC000" stroke="#000" stroke-width="2.2"/>
<circle cx="583.15" cy="105.29" r="3.85" fill="#FFC000" stroke="#000" stroke-width="2.2"/>
<circle cx="588.24" cy="109.54" r="3.85" fill="#FFC000" stroke="#000" stroke-width="2.2"/>
<circle cx="593.32" cy="113.94" r="3.85" fill="#FFC000" stroke="#000" stroke-width="2.2"/>
<circle cx="598.40" cy="118.41" r="3.85" fill="#FFC000" stroke="#000" stroke-width="2.2"/>
<circle cx="603.49" cy="122.90" r="3.85" fill="#FFC000" stroke="#000" stroke-width="2.2"/>
<circle cx="608.57" cy="127.33" r="3.85" fill="#FFC000" stroke="#000" stroke-width="2.2"/>
<circle cx="613.65" cy="131.65" r="3.85" fill="#FFC000" stroke="#000" stroke-width="2.2"/>
<circle cx="618.74" cy="135.78" r="3.85" fill="#FFC000" stroke="#000" stroke-width="2.2"/>
<circle cx="623.82" cy="139.87" r="3.85" fill="#FFC000" stroke="#000" stroke-width="2.2"/>
<circle cx="628.91" cy="143.92" r="3.85" fill="#FFC000" stroke="#000" stroke-width="2.2"/>
<circle cx="633.99" cy="147.87" r="3.85" fill="#FFC000" stroke="#000" stroke-width="2.2"/>
<circle cx="639.07" cy="151.63" r="3.85" fill="#FFC000" stroke="#000" stroke-width="2.2"/>
<circle cx="644.16" cy="155.13" r="3.85" fill="#FFC000" stroke="#000" stroke-width="2.2"/>
<circle cx="649.24" cy="158.39" r="3.85" fill="#FFC000" stroke="#000" stroke-width="2.2"/>
<circle cx="654.32" cy="161.49" r="3.85" fill="#FFC000" stroke="#000" stroke-width="2.2"/>
<circle cx="659.41" cy="164.43" r="3.85" fill="#FFC000" stroke="#000" stroke-width="2.2"/>
<circle cx="664.49" cy="167.19" r="3.85" fill="#FFC000" stroke="#000" stroke-width="2.2"/>
<circle cx="669.58" cy="169.75" r="3.85" fill="#FFC000" stroke="#000" stroke-width="2.2"/>
<path d="M457.31 23.93L461.71 32.53L452.91 32.53Z" fill="#FFFF00" stroke="#000" stroke-width="1.4" stroke-linejoin="miter"/>
<path d="M462.37 26.86L466.77 35.46L457.97 35.46Z" fill="#FFFF00" stroke="#000" stroke-width="1.4" stroke-linejoin="miter"/>
<path d="M467.42 29.80L471.82 38.40L463.02 38.40Z" fill="#FFFF00" stroke="#000" stroke-width="1.4" stroke-linejoin="miter"/>
<path d="M472.47 32.73L476.87 41.33L468.07 41.33Z" fill="#FFFF00" stroke="#000" stroke-width="1.4" stroke-linejoin="miter"/>
<path d="M477.53 35.67L481.93 44.27L473.13 44.27Z" fill="#FFFF00" stroke="#000" stroke-width="1.4" stroke-linejoin="miter"/>
<path d="M482.58 38.60L486.98 47.20L478.18 47.20Z" fill="#FFFF00" stroke="#000" stroke-width="1.4" stroke-linejoin="miter"/>
<path d="M487.64 41.53L492.04 50.13L483.24 50.13Z" fill="#FFFF00" stroke="#000" stroke-width="1.4" stroke-linejoin="miter"/>
<path d="M492.69 44.46L497.09 53.06L488.29 53.06Z" fill="#FFFF00" stroke="#000" stroke-width="1.4" stroke-linejoin="miter"/>
<path d="M497.74 47.38L502.14 55.98L493.34 55.98Z" fill="#FFFF00" stroke="#000" stroke-width="1.4" stroke-linejoin="miter"/>
<path d="M502.80 50.29L507.20 58.89L498.40 58.89Z" fill="#FFFF00" stroke="#000" stroke-width="1.4" stroke-linejoin="miter"/>
<path d="M507.85 53.15L512.25 61.75L503.45 61.75Z" fill="#FFFF00" stroke="#000" stroke-width="1.4" stroke-linejoin="miter"/>
<path d="M512.90 55.98L517.30 64.58L508.50 64.58Z" fill="#FFFF00" stroke="#000" stroke-width="1.4" stroke-linejoin="miter"/>
<path d="M517.96 58.83L522.36 67.43L513.56 67.43Z" fill="#FFFF00" stroke="#000" stroke-width="1.4" stroke-linejoin="miter"/>
<path d="M523.01 61.71L527.41 70.31L518.61 70.31Z" fill="#FFFF00" stroke="#000" stroke-width="1.4" stroke-linejoin="miter"/>
<path d="M528.07 64.66L532.47 73.26L523.67 73.26Z" fill="#FFFF00" stroke="#000" stroke-width="1.4" stroke-linejoin="miter"/>
<path d="M533.12 67.71L537.52 76.31L528.72 76.31Z" fill="#FFFF00" stroke="#000" stroke-width="1.4" stroke-linejoin="miter"/>
<path d="M538.17 70.88L542.57 79.48L533.77 79.48Z" fill="#FFFF00" stroke="#000" stroke-width="1.4" stroke-linejoin="miter"/>
<path d="M543.23 74.23L547.63 82.83L538.83 82.83Z" fill="#FFFF00" stroke="#000" stroke-width="1.4" stroke-linejoin="miter"/>
<path d="M548.28 77.70L552.68 86.30L543.88 86.30Z" fill="#FFFF00" stroke="#000" stroke-width="1.4" stroke-linejoin="miter"/>
<path d="M553.34 81.24L557.74 89.84L548.94 89.84Z" fill="#FFFF00" stroke="#000" stroke-width="1.4" stroke-linejoin="miter"/>
<path d="M558.39 84.77L562.79 93.37L553.99 93.37Z" fill="#FFFF00" stroke="#000" stroke-width="1.4" stroke-linejoin="miter"/>
<path d="M563.44 88.24L567.84 96.84L559.04 96.84Z" fill="#FFFF00" stroke="#000" stroke-width="1.4" stroke-linejoin="miter"/>
<path d="M568.50 91.61L572.90 100.21L564.10 100.21Z" fill="#FFFF00" stroke="#000" stroke-width="1.4" stroke-linejoin="miter"/>
<path d="M573.55 95.04L577.95 103.64L569.15 103.64Z" fill="#FFFF00" stroke="#000" stroke-width="1.4" stroke-linejoin="miter"/>
<path d="M578.61 98.71L583.01 107.31L574.21 107.31Z" fill="#FFFF00" stroke="#000" stroke-width="1.4" stroke-linejoin="miter"/>
<path d="M583.66 102.68L588.06 111.28L579.26 111.28Z" fill="#FFFF00" stroke="#000" stroke-width="1.4" stroke-linejoin="miter"/>
<path d="M588.71 106.87L593.11 115.47L584.31 115.47Z" fill="#FFFF00" stroke="#000" stroke-width="1.4" stroke-linejoin="miter"/>
<path d="M593.77 111.20L598.17 119.80L589.37 119.80Z" fill="#FFFF00" stroke="#000" stroke-width="1.4" stroke-linejoin="miter"/>
<path d="M598.82 115.62L603.22 124.22L594.42 124.22Z" fill="#FFFF00" stroke="#000" stroke-width="1.4" stroke-linejoin="miter"/>
<path d="M603.88 120.05L608.28 128.65L599.48 128.65Z" fill="#FFFF00" stroke="#000" stroke-width="1.4" stroke-linejoin="miter"/>
<path d="M608.93 124.42L613.33 133.02L604.53 133.02Z" fill="#FFFF00" stroke="#000" stroke-width="1.4" stroke-linejoin="miter"/>
<path d="M613.98 128.68L618.38 137.28L609.58 137.28Z" fill="#FFFF00" stroke="#000" stroke-width="1.4" stroke-linejoin="miter"/>
<path d="M619.04 132.75L623.44 141.35L614.64 141.35Z" fill="#FFFF00" stroke="#000" stroke-width="1.4" stroke-linejoin="miter"/>
<path d="M624.09 136.78L628.49 145.38L619.69 145.38Z" fill="#FFFF00" stroke="#000" stroke-width="1.4" stroke-linejoin="miter"/>
<path d="M629.14 140.78L633.54 149.38L624.74 149.38Z" fill="#FFFF00" stroke="#000" stroke-width="1.4" stroke-linejoin="miter"/>
<path d="M634.20 144.67L638.60 153.27L629.80 153.27Z" fill="#FFFF00" stroke="#000" stroke-width="1.4" stroke-linejoin="miter"/>
<path d="M639.25 148.36L643.65 156.96L634.85 156.96Z" fill="#FFFF00" stroke="#000" stroke-width="1.4" stroke-linejoin="miter"/>
<path d="M644.31 151.79L648.71 160.39L639.91 160.39Z" fill="#FFFF00" stroke="#000" stroke-width="1.4" stroke-linejoin="miter"/>
<path d="M649.36 154.96L653.76 163.56L644.96 163.56Z" fill="#FFFF00" stroke="#000" stroke-width="1.4" stroke-linejoin="miter"/>
<path d="M654.41 157.99L658.81 166.59L650.01 166.59Z" fill="#FFFF00" stroke="#000" stroke-width="1.4" stroke-linejoin="miter"/>
<path d="M659.47 160.84L663.87 169.44L655.07 169.44Z" fill="#FFFF00" stroke="#000" stroke-width="1.4" stroke-linejoin="miter"/>
<path d="M664.52 163.50L668.92 172.10L660.12 172.10Z" fill="#FFFF00" stroke="#000" stroke-width="1.4" stroke-linejoin="miter"/>
<path d="M669.58 165.96L673.98 174.56L665.18 174.56Z" fill="#FFFF00" stroke="#000" stroke-width="1.4" stroke-linejoin="miter"/>
<rect x="452.11" y="21.79" width="8.40" height="8.40" fill="#92D050" stroke="#000" stroke-width="1.4"/>
<rect x="457.17" y="25.27" width="8.40" height="8.40" fill="#92D050" stroke="#000" stroke-width="1.4"/>
<rect x="462.23" y="28.71" width="8.40" height="8.40" fill="#92D050" stroke="#000" stroke-width="1.4"/>
<rect x="467.29" y="32.13" width="8.40" height="8.40" fill="#92D050" stroke="#000" stroke-width="1.4"/>
<rect x="472.35" y="35.51" width="8.40" height="8.40" fill="#92D050" stroke="#000" stroke-width="1.4"/>
<rect x="477.41" y="38.84" width="8.40" height="8.40" fill="#92D050" stroke="#000" stroke-width="1.4"/>
<rect x="482.47" y="42.09" width="8.40" height="8.40" fill="#92D050" stroke="#000" stroke-width="1.4"/>
<rect x="487.53" y="45.32" width="8.40" height="8.40" fill="#92D050" stroke="#000" stroke-width="1.4"/>
<rect x="492.59" y="48.57" width="8.40" height="8.40" fill="#92D050" stroke="#000" stroke-width="1.4"/>
<rect x="497.65" y="51.91" width="8.40" height="8.40" fill="#92D050" stroke="#000" stroke-width="1.4"/>
<rect x="502.71" y="55.31" width="8.40" height="8.40" fill="#92D050" stroke="#000" stroke-width="1.4"/>
<rect x="507.77" y="58.74" width="8.40" height="8.40" fill="#92D050" stroke="#000" stroke-width="1.4"/>
<rect x="512.83" y="62.20" width="8.40" height="8.40" fill="#92D050" stroke="#000" stroke-width="1.4"/>
<rect x="517.89" y="65.71" width="8.40" height="8.40" fill="#92D050" stroke="#000" stroke-width="1.4"/>
<rect x="522.95" y="69.28" width="8.40" height="8.40" fill="#92D050" stroke="#000" stroke-width="1.4"/>
<rect x="528.01" y="72.92" width="8.40" height="8.40" fill="#92D050" stroke="#000" stroke-width="1.4"/>
<rect x="533.07" y="76.64" width="8.40" height="8.40" fill="#92D050" stroke="#000" stroke-width="1.4"/>
<rect x="538.13" y="80.46" width="8.40" height="8.40" fill="#92D050" stroke="#000" stroke-width="1.4"/>
<rect x="543.19" y="84.45" width="8.40" height="8.40" fill="#92D050" stroke="#000" stroke-width="1.4"/>
<rect x="548.25" y="88.61" width="8.40" height="8.40" fill="#92D050" stroke="#000" stroke-width="1.4"/>
<rect x="553.30" y="92.85" width="8.40" height="8.40" fill="#92D050" stroke="#000" stroke-width="1.4"/>
<rect x="558.36" y="97.11" width="8.40" height="8.40" fill="#92D050" stroke="#000" stroke-width="1.4"/>
<rect x="563.42" y="101.32" width="8.40" height="8.40" fill="#92D050" stroke="#000" stroke-width="1.4"/>
<rect x="568.48" y="105.50" width="8.40" height="8.40" fill="#92D050" stroke="#000" stroke-width="1.4"/>
<rect x="573.54" y="109.68" width="8.40" height="8.40" fill="#92D050" stroke="#000" stroke-width="1.4"/>
<rect x="578.60" y="113.87" width="8.40" height="8.40" fill="#92D050" stroke="#000" stroke-width="1.4"/>
<rect x="583.66" y="118.06" width="8.40" height="8.40" fill="#92D050" stroke="#000" stroke-width="1.4"/>
<rect x="588.72" y="122.28" width="8.40" height="8.40" fill="#92D050" stroke="#000" stroke-width="1.4"/>
<rect x="593.78" y="126.57" width="8.40" height="8.40" fill="#92D050" stroke="#000" stroke-width="1.4"/>
<rect x="598.84" y="130.89" width="8.40" height="8.40" fill="#92D050" stroke="#000" stroke-width="1.4"/>
<rect x="603.90" y="135.14" width="8.40" height="8.40" fill="#92D050" stroke="#000" stroke-width="1.4"/>
<rect x="608.96" y="139.25" width="8.40" height="8.40" fill="#92D050" stroke="#000" stroke-width="1.4"/>
<rect x="614.02" y="143.14" width="8.40" height="8.40" fill="#92D050" stroke="#000" stroke-width="1.4"/>
<rect x="619.08" y="146.94" width="8.40" height="8.40" fill="#92D050" stroke="#000" stroke-width="1.4"/>
<rect x="624.14" y="150.64" width="8.40" height="8.40" fill="#92D050" stroke="#000" stroke-width="1.4"/>
<rect x="629.20" y="154.19" width="8.40" height="8.40" fill="#92D050" stroke="#000" stroke-width="1.4"/>
<rect x="634.26" y="157.54" width="8.40" height="8.40" fill="#92D050" stroke="#000" stroke-width="1.4"/>
<rect x="639.32" y="160.66" width="8.40" height="8.40" fill="#92D050" stroke="#000" stroke-width="1.4"/>
<rect x="644.38" y="163.62" width="8.40" height="8.40" fill="#92D050" stroke="#000" stroke-width="1.4"/>
<rect x="649.44" y="166.45" width="8.40" height="8.40" fill="#92D050" stroke="#000" stroke-width="1.4"/>
<rect x="654.50" y="169.12" width="8.40" height="8.40" fill="#92D050" stroke="#000" stroke-width="1.4"/>
<rect x="659.56" y="171.63" width="8.40" height="8.40" fill="#92D050" stroke="#000" stroke-width="1.4"/>
<rect x="664.62" y="173.97" width="8.40" height="8.40" fill="#92D050" stroke="#000" stroke-width="1.4"/>
</g>
<path d="M423.4 212.0h4.6M423.4 177.7h4.6M423.4 143.3h4.6M423.4 109.0h4.6M423.4 74.6h4.6M423.4 40.2h4.6M423.4 5.9h4.6M423.4 212.0v-4.6M473.6 212.0v-4.6M523.9 212.0v-4.6M574.1 212.0v-4.6M624.4 212.0v-4.6M674.6 212.0v-4.6" stroke="#000" stroke-width="1.7" fill="none"/>
<rect x="423.4" y="5.9" width="251.2" height="206.1" fill="none" stroke="#000" stroke-width="2.1"/>
<text transform="translate(409.60,217.00) scale(0.97,1)" text-anchor="end" font-family='"Liberation Serif", serif' font-size="15.7">0</text>
<text transform="translate(409.60,182.65) scale(0.97,1)" text-anchor="end" font-family='"Liberation Serif", serif' font-size="15.7">20</text>
<text transform="translate(409.60,148.30) scale(0.97,1)" text-anchor="end" font-family='"Liberation Serif", serif' font-size="15.7">40</text>
<text transform="translate(409.60,113.95) scale(0.97,1)" text-anchor="end" font-family='"Liberation Serif", serif' font-size="15.7">60</text>
<text transform="translate(409.60,79.60) scale(0.97,1)" text-anchor="end" font-family='"Liberation Serif", serif' font-size="15.7">80</text>
<text transform="translate(409.60,45.25) scale(0.97,1)" text-anchor="end" font-family='"Liberation Serif", serif' font-size="15.7">100</text>
<text transform="translate(409.60,10.90) scale(0.97,1)" text-anchor="end" font-family='"Liberation Serif", serif' font-size="15.7">120</text>
<text transform="translate(423.40,235.80) scale(0.97,1)" text-anchor="middle" font-family='"Liberation Serif", serif' font-size="15.7">0</text>
<text transform="translate(473.64,235.80) scale(0.97,1)" text-anchor="middle" font-family='"Liberation Serif", serif' font-size="15.7">20</text>
<text transform="translate(523.88,235.80) scale(0.97,1)" text-anchor="middle" font-family='"Liberation Serif", serif' font-size="15.7">40</text>
<text transform="translate(574.12,235.80) scale(0.97,1)" text-anchor="middle" font-family='"Liberation Serif", serif' font-size="15.7">60</text>
<text transform="translate(624.36,235.80) scale(0.97,1)" text-anchor="middle" font-family='"Liberation Serif", serif' font-size="15.7">80</text>
<text transform="translate(674.60,235.80) scale(0.97,1)" text-anchor="middle" font-family='"Liberation Serif", serif' font-size="15.7">100</text>
<text x="468.7" y="264.2" font-family='"Liberation Serif", serif' font-size="22.6">Temperature (</text>
<circle cx="595.95" cy="252.40" r="2.8" fill="none" stroke="#000" stroke-width="1.05"/>
<text x="599.90" y="264.2" font-family='"Liberation Serif", serif' font-size="23.8">C</text>
<text x="614.40" y="264.2" font-family='"Liberation Serif", serif' font-size="22.6">)</text>
<clipPath id="c3"><rect x="68.6" y="284.1" width="257.4" height="207.9"/></clipPath>
<g clip-path="url(#c3)">
<path d="M103.31 413.75L107.26 417.70L103.31 421.65L99.36 417.70Z" fill="#00B0F0" stroke="#000" stroke-width="1.4" stroke-linejoin="miter"/>
<path d="M108.47 414.87L112.42 418.82L108.47 422.77L104.52 418.82Z" fill="#00B0F0" stroke="#000" stroke-width="1.4" stroke-linejoin="miter"/>
<path d="M113.63 415.90L117.58 419.85L113.63 423.80L109.68 419.85Z" fill="#00B0F0" stroke="#000" stroke-width="1.4" stroke-linejoin="miter"/>
<path d="M118.78 416.78L122.73 420.73L118.78 424.68L114.83 420.73Z" fill="#00B0F0" stroke="#000" stroke-width="1.4" stroke-linejoin="miter"/>
<path d="M123.94 417.45L127.89 421.40L123.94 425.35L119.99 421.40Z" fill="#00B0F0" stroke="#000" stroke-width="1.4" stroke-linejoin="miter"/>
<path d="M129.10 418.02L133.05 421.97L129.10 425.92L125.15 421.97Z" fill="#00B0F0" stroke="#000" stroke-width="1.4" stroke-linejoin="miter"/>
<path d="M134.25 418.51L138.20 422.46L134.25 426.41L130.30 422.46Z" fill="#00B0F0" stroke="#000" stroke-width="1.4" stroke-linejoin="miter"/>
<path d="M139.41 418.96L143.36 422.91L139.41 426.86L135.46 422.91Z" fill="#00B0F0" stroke="#000" stroke-width="1.4" stroke-linejoin="miter"/>
<path d="M144.57 419.38L148.52 423.33L144.57 427.28L140.62 423.33Z" fill="#00B0F0" stroke="#000" stroke-width="1.4" stroke-linejoin="miter"/>
<path d="M149.72 419.80L153.67 423.75L149.72 427.70L145.77 423.75Z" fill="#00B0F0" stroke="#000" stroke-width="1.4" stroke-linejoin="miter"/>
<path d="M154.88 420.24L158.83 424.19L154.88 428.14L150.93 424.19Z" fill="#00B0F0" stroke="#000" stroke-width="1.4" stroke-linejoin="miter"/>
<path d="M160.04 420.73L163.99 424.68L160.04 428.63L156.09 424.68Z" fill="#00B0F0" stroke="#000" stroke-width="1.4" stroke-linejoin="miter"/>
<path d="M165.19 421.26L169.14 425.21L165.19 429.16L161.24 425.21Z" fill="#00B0F0" stroke="#000" stroke-width="1.4" stroke-linejoin="miter"/>
<path d="M170.35 421.83L174.30 425.78L170.35 429.73L166.40 425.78Z" fill="#00B0F0" stroke="#000" stroke-width="1.4" stroke-linejoin="miter"/>
<path d="M175.51 422.45L179.46 426.40L175.51 430.35L171.56 426.40Z" fill="#00B0F0" stroke="#000" stroke-width="1.4" stroke-linejoin="miter"/>
<path d="M180.66 423.11L184.61 427.06L180.66 431.01L176.71 427.06Z" fill="#00B0F0" stroke="#000" stroke-width="1.4" stroke-linejoin="miter"/>
<path d="M185.82 423.55L189.77 427.50L185.82 431.45L181.87 427.50Z" fill="#00B0F0" stroke="#000" stroke-width="1.4" stroke-linejoin="miter"/>
<path d="M190.98 423.86L194.93 427.81L190.98 431.76L187.03 427.81Z" fill="#00B0F0" stroke="#000" stroke-width="1.4" stroke-linejoin="miter"/>
<path d="M196.13 424.11L200.08 428.06L196.13 432.01L192.18 428.06Z" fill="#00B0F0" stroke="#000" stroke-width="1.4" stroke-linejoin="miter"/>
<path d="M201.29 424.32L205.24 428.27L201.29 432.22L197.34 428.27Z" fill="#00B0F0" stroke="#000" stroke-width="1.4" stroke-linejoin="miter"/>
<path d="M206.45 424.50L210.40 428.45L206.45 432.40L202.50 428.45Z" fill="#00B0F0" stroke="#000" stroke-width="1.4" stroke-linejoin="miter"/>
<path d="M211.60 424.67L215.55 428.62L211.60 432.57L207.65 428.62Z" fill="#00B0F0" stroke="#000" stroke-width="1.4" stroke-linejoin="miter"/>
<path d="M216.76 424.80L220.71 428.75L216.76 432.70L212.81 428.75Z" fill="#00B0F0" stroke="#000" stroke-width="1.4" stroke-linejoin="miter"/>
<path d="M221.92 424.91L225.87 428.86L221.92 432.81L217.97 428.86Z" fill="#00B0F0" stroke="#000" stroke-width="1.4" stroke-linejoin="miter"/>
<path d="M227.07 425.03L231.02 428.98L227.07 432.93L223.12 428.98Z" fill="#00B0F0" stroke="#000" stroke-width="1.4" stroke-linejoin="miter"/>
<path d="M232.23 425.16L236.18 429.11L232.23 433.06L228.28 429.11Z" fill="#00B0F0" stroke="#000" stroke-width="1.4" stroke-linejoin="miter"/>
<path d="M237.39 425.35L241.34 429.30L237.39 433.25L233.44 429.30Z" fill="#00B0F0" stroke="#000" stroke-width="1.4" stroke-linejoin="miter"/>
<path d="M242.54 425.62L246.49 429.57L242.54 433.52L238.59 429.57Z" fill="#00B0F0" stroke="#000" stroke-width="1.4" stroke-linejoin="miter"/>
<path d="M247.70 425.96L251.65 429.91L247.70 433.86L243.75 429.91Z" fill="#00B0F0" stroke="#000" stroke-width="1.4" stroke-linejoin="miter"/>
<path d="M252.86 426.38L256.81 430.33L252.86 434.28L248.91 430.33Z" fill="#00B0F0" stroke="#000" stroke-width="1.4" stroke-linejoin="miter"/>
<path d="M258.01 426.87L261.96 430.82L258.01 434.77L254.06 430.82Z" fill="#00B0F0" stroke="#000" stroke-width="1.4" stroke-linejoin="miter"/>
<path d="M263.17 427.48L267.12 431.43L263.17 435.38L259.22 431.43Z" fill="#00B0F0" stroke="#000" stroke-width="1.4" stroke-linejoin="miter"/>
<path d="M268.33 428.30L272.28 432.25L268.33 436.20L264.38 432.25Z" fill="#00B0F0" stroke="#000" stroke-width="1.4" stroke-linejoin="miter"/>
<path d="M273.48 429.30L277.43 433.25L273.48 437.20L269.53 433.25Z" fill="#00B0F0" stroke="#000" stroke-width="1.4" stroke-linejoin="miter"/>
<path d="M278.64 430.60L282.59 434.55L278.64 438.50L274.69 434.55Z" fill="#00B0F0" stroke="#000" stroke-width="1.4" stroke-linejoin="miter"/>
<path d="M283.80 432.27L287.75 436.22L283.80 440.17L279.85 436.22Z" fill="#00B0F0" stroke="#000" stroke-width="1.4" stroke-linejoin="miter"/>
<path d="M288.95 434.22L292.90 438.17L288.95 442.12L285.00 438.17Z" fill="#00B0F0" stroke="#000" stroke-width="1.4" stroke-linejoin="miter"/>
<path d="M294.11 436.41L298.06 440.36L294.11 444.31L290.16 440.36Z" fill="#00B0F0" stroke="#000" stroke-width="1.4" stroke-linejoin="miter"/>
<path d="M299.27 439.03L303.22 442.98L299.27 446.93L295.32 442.98Z" fill="#00B0F0" stroke="#000" stroke-width="1.4" stroke-linejoin="miter"/>
<path d="M304.42 441.98L308.37 445.93L304.42 449.88L300.47 445.93Z" fill="#00B0F0" stroke="#000" stroke-width="1.4" stroke-linejoin="miter"/>
<path d="M309.58 445.09L313.53 449.04L309.58 452.99L305.63 449.04Z" fill="#00B0F0" stroke="#000" stroke-width="1.4" stroke-linejoin="miter"/>
<path d="M314.74 448.25L318.69 452.20L314.74 456.15L310.79 452.20Z" fill="#00B0F0" stroke="#000" stroke-width="1.4" stroke-linejoin="miter"/>
<path d="M319.89 451.64L323.84 455.59L319.89 459.54L315.94 455.59Z" fill="#00B0F0" stroke="#000" stroke-width="1.4" stroke-linejoin="miter"/>
<circle cx="103.31" cy="424.29" r="3.85" fill="#FFC000" stroke="#000" stroke-width="1.4"/>
<circle cx="108.46" cy="425.57" r="3.85" fill="#FFC000" stroke="#000" stroke-width="1.4"/>
<circle cx="113.60" cy="426.67" r="3.85" fill="#FFC000" stroke="#000" stroke-width="1.4"/>
<circle cx="118.75" cy="427.42" r="3.85" fill="#FFC000" stroke="#000" stroke-width="1.4"/>
<circle cx="123.89" cy="427.78" r="3.85" fill="#FFC000" stroke="#000" stroke-width="1.4"/>
<circle cx="129.04" cy="428.06" r="3.85" fill="#FFC000" stroke="#000" stroke-width="1.4"/>
<circle cx="134.18" cy="428.26" r="3.85" fill="#FFC000" stroke="#000" stroke-width="1.4"/>
<circle cx="139.32" cy="428.38" r="3.85" fill="#FFC000" stroke="#000" stroke-width="1.4"/>
<circle cx="144.47" cy="428.41" r="3.85" fill="#FFC000" stroke="#000" stroke-width="1.4"/>
<circle cx="149.61" cy="428.41" r="3.85" fill="#FFC000" stroke="#000" stroke-width="1.4"/>
<circle cx="154.76" cy="428.41" r="3.85" fill="#FFC000" stroke="#000" stroke-width="1.4"/>
<circle cx="159.90" cy="428.41" r="3.85" fill="#FFC000" stroke="#000" stroke-width="1.4"/>
<circle cx="165.05" cy="428.41" r="3.85" fill="#FFC000" stroke="#000" stroke-width="1.4"/>
<circle cx="170.19" cy="428.41" r="3.85" fill="#FFC000" stroke="#000" stroke-width="1.4"/>
<circle cx="175.34" cy="428.39" r="3.85" fill="#FFC000" stroke="#000" stroke-width="1.4"/>
<circle cx="180.48" cy="428.33" r="3.85" fill="#FFC000" stroke="#000" stroke-width="1.4"/>
<circle cx="185.62" cy="428.22" r="3.85" fill="#FFC000" stroke="#000" stroke-width="1.4"/>
<circle cx="190.77" cy="428.08" r="3.85" fill="#FFC000" stroke="#000" stroke-width="1.4"/>
<circle cx="195.91" cy="427.92" r="3.85" fill="#FFC000" stroke="#000" stroke-width="1.4"/>
<circle cx="201.06" cy="427.74" r="3.85" fill="#FFC000" stroke="#000" stroke-width="1.4"/>
<circle cx="206.20" cy="427.57" r="3.85" fill="#FFC000" stroke="#000" stroke-width="1.4"/>
<circle cx="211.35" cy="427.30" r="3.85" fill="#FFC000" stroke="#000" stroke-width="1.4"/>
<circle cx="216.49" cy="426.95" r="3.85" fill="#FFC000" stroke="#000" stroke-width="1.4"/>
<circle cx="221.64" cy="426.56" r="3.85" fill="#FFC000" stroke="#000" stroke-width="1.4"/>
<circle cx="226.78" cy="426.22" r="3.85" fill="#FFC000" stroke="#000" stroke-width="1.4"/>
<circle cx="231.92" cy="425.99" r="3.85" fill="#FFC000" stroke="#000" stroke-width="1.4"/>
<circle cx="237.07" cy="425.94" r="3.85" fill="#FFC000" stroke="#000" stroke-width="1.4"/>
<circle cx="242.21" cy="425.94" r="3.85" fill="#FFC000" stroke="#000" stroke-width="1.4"/>
<circle cx="247.36" cy="425.94" r="3.85" fill="#FFC000" stroke="#000" stroke-width="1.4"/>
<circle cx="252.50" cy="425.94" r="3.85" fill="#FFC000" stroke="#000" stroke-width="1.4"/>
<circle cx="257.65" cy="425.94" r="3.85" fill="#FFC000" stroke="#000" stroke-width="1.4"/>
<circle cx="262.79" cy="425.99" r="3.85" fill="#FFC000" stroke="#000" stroke-width="1.4"/>
<circle cx="267.94" cy="426.69" r="3.85" fill="#FFC000" stroke="#000" stroke-width="1.4"/>
<circle cx="273.08" cy="427.81" r="3.85" fill="#FFC000" stroke="#000" stroke-width="1.4"/>
<circle cx="278.23" cy="429.13" r="3.85" fill="#FFC000" stroke="#000" stroke-width="1.4"/>
<circle cx="283.37" cy="430.90" r="3.85" fill="#FFC000" stroke="#000" stroke-width="1.4"/>
<circle cx="288.51" cy="432.98" r="3.85" fill="#FFC000" stroke="#000" stroke-width="1.4"/>
<circle cx="293.66" cy="435.28" r="3.85" fill="#FFC000" stroke="#000" stroke-width="1.4"/>
<circle cx="298.80" cy="438.06" r="3.85" fill="#FFC000" stroke="#000" stroke-width="1.4"/>
<circle cx="303.95" cy="441.09" r="3.85" fill="#FFC000" stroke="#000" stroke-width="1.4"/>
<circle cx="309.09" cy="444.35" r="3.85" fill="#FFC000" stroke="#000" stroke-width="1.4"/>
<circle cx="314.24" cy="448.03" r="3.85" fill="#FFC000" stroke="#000" stroke-width="1.4"/>
<circle cx="319.38" cy="452.29" r="3.85" fill="#FFC000" stroke="#000" stroke-width="1.4"/>
<path d="M104.08 425.75L108.48 434.35L99.68 434.35Z" fill="#FFFF00" stroke="#000" stroke-width="1.4" stroke-linejoin="miter"/>
<path d="M109.24 426.94L113.64 435.54L104.84 435.54Z" fill="#FFFF00" stroke="#000" stroke-width="1.4" stroke-linejoin="miter"/>
<path d="M114.40 428.02L118.80 436.62L110.00 436.62Z" fill="#FFFF00" stroke="#000" stroke-width="1.4" stroke-linejoin="miter"/>
<path d="M119.57 428.89L123.97 437.49L115.17 437.49Z" fill="#FFFF00" stroke="#000" stroke-width="1.4" stroke-linejoin="miter"/>
<path d="M124.73 429.58L129.13 438.18L120.33 438.18Z" fill="#FFFF00" stroke="#000" stroke-width="1.4" stroke-linejoin="miter"/>
<path d="M129.89 430.23L134.29 438.83L125.49 438.83Z" fill="#FFFF00" stroke="#000" stroke-width="1.4" stroke-linejoin="miter"/>
<path d="M135.06 430.82L139.46 439.42L130.66 439.42Z" fill="#FFFF00" stroke="#000" stroke-width="1.4" stroke-linejoin="miter"/>
<path d="M140.22 431.32L144.62 439.92L135.82 439.92Z" fill="#FFFF00" stroke="#000" stroke-width="1.4" stroke-linejoin="miter"/>
<path d="M145.38 431.69L149.78 440.29L140.98 440.29Z" fill="#FFFF00" stroke="#000" stroke-width="1.4" stroke-linejoin="miter"/>
<path d="M150.54 431.91L154.94 440.51L146.14 440.51Z" fill="#FFFF00" stroke="#000" stroke-width="1.4" stroke-linejoin="miter"/>
<path d="M155.71 432.02L160.11 440.62L151.31 440.62Z" fill="#FFFF00" stroke="#000" stroke-width="1.4" stroke-linejoin="miter"/>
<path d="M160.87 432.11L165.27 440.71L156.47 440.71Z" fill="#FFFF00" stroke="#000" stroke-width="1.4" stroke-linejoin="miter"/>
<path d="M166.03 432.20L170.43 440.80L161.63 440.80Z" fill="#FFFF00" stroke="#000" stroke-width="1.4" stroke-linejoin="miter"/>
<path d="M171.19 432.27L175.59 440.87L166.79 440.87Z" fill="#FFFF00" stroke="#000" stroke-width="1.4" stroke-linejoin="miter"/>
<path d="M176.36 432.33L180.76 440.93L171.96 440.93Z" fill="#FFFF00" stroke="#000" stroke-width="1.4" stroke-linejoin="miter"/>
<path d="M181.52 432.39L185.92 440.99L177.12 440.99Z" fill="#FFFF00" stroke="#000" stroke-width="1.4" stroke-linejoin="miter"/>
<path d="M186.68 432.43L191.08 441.03L182.28 441.03Z" fill="#FFFF00" stroke="#000" stroke-width="1.4" stroke-linejoin="miter"/>
<path d="M191.85 432.47L196.25 441.07L187.45 441.07Z" fill="#FFFF00" stroke="#000" stroke-width="1.4" stroke-linejoin="miter"/>
<path d="M197.01 432.49L201.41 441.09L192.61 441.09Z" fill="#FFFF00" stroke="#000" stroke-width="1.4" stroke-linejoin="miter"/>
<path d="M202.17 432.50L206.57 441.10L197.77 441.10Z" fill="#FFFF00" stroke="#000" stroke-width="1.4" stroke-linejoin="miter"/>
<path d="M207.33 432.51L211.73 441.11L202.93 441.11Z" fill="#FFFF00" stroke="#000" stroke-width="1.4" stroke-linejoin="miter"/>
<path d="M212.50 432.51L216.90 441.11L208.10 441.11Z" fill="#FFFF00" stroke="#000" stroke-width="1.4" stroke-linejoin="miter"/>
<path d="M217.66 432.51L222.06 441.11L213.26 441.11Z" fill="#FFFF00" stroke="#000" stroke-width="1.4" stroke-linejoin="miter"/>
<path d="M222.82 432.51L227.22 441.11L218.42 441.11Z" fill="#FFFF00" stroke="#000" stroke-width="1.4" stroke-linejoin="miter"/>
<path d="M227.98 432.51L232.38 441.11L223.58 441.11Z" fill="#FFFF00" stroke="#000" stroke-width="1.4" stroke-linejoin="miter"/>
<path d="M233.15 432.51L237.55 441.11L228.75 441.11Z" fill="#FFFF00" stroke="#000" stroke-width="1.4" stroke-linejoin="miter"/>
<path d="M238.31 432.51L242.71 441.11L233.91 441.11Z" fill="#FFFF00" stroke="#000" stroke-width="1.4" stroke-linejoin="miter"/>
<path d="M243.47 432.54L247.87 441.14L239.07 441.14Z" fill="#FFFF00" stroke="#000" stroke-width="1.4" stroke-linejoin="miter"/>
<path d="M248.64 432.62L253.04 441.22L244.24 441.22Z" fill="#FFFF00" stroke="#000" stroke-width="1.4" stroke-linejoin="miter"/>
<path d="M253.80 432.75L258.20 441.35L249.40 441.35Z" fill="#FFFF00" stroke="#000" stroke-width="1.4" stroke-linejoin="miter"/>
<path d="M258.96 432.92L263.36 441.52L254.56 441.52Z" fill="#FFFF00" stroke="#000" stroke-width="1.4" stroke-linejoin="miter"/>
<path d="M264.12 433.29L268.52 441.89L259.72 441.89Z" fill="#FFFF00" stroke="#000" stroke-width="1.4" stroke-linejoin="miter"/>
<path d="M269.29 434.21L273.69 442.81L264.89 442.81Z" fill="#FFFF00" stroke="#000" stroke-width="1.4" stroke-linejoin="miter"/>
<path d="M274.45 435.34L278.85 443.94L270.05 443.94Z" fill="#FFFF00" stroke="#000" stroke-width="1.4" stroke-linejoin="miter"/>
<path d="M279.61 436.61L284.01 445.21L275.21 445.21Z" fill="#FFFF00" stroke="#000" stroke-width="1.4" stroke-linejoin="miter"/>
<path d="M284.77 438.12L289.17 446.72L280.37 446.72Z" fill="#FFFF00" stroke="#000" stroke-width="1.4" stroke-linejoin="miter"/>
<path d="M289.94 439.85L294.34 448.45L285.54 448.45Z" fill="#FFFF00" stroke="#000" stroke-width="1.4" stroke-linejoin="miter"/>
<path d="M295.10 441.88L299.50 450.48L290.70 450.48Z" fill="#FFFF00" stroke="#000" stroke-width="1.4" stroke-linejoin="miter"/>
<path d="M300.26 444.36L304.66 452.96L295.86 452.96Z" fill="#FFFF00" stroke="#000" stroke-width="1.4" stroke-linejoin="miter"/>
<path d="M305.43 447.00L309.83 455.60L301.03 455.60Z" fill="#FFFF00" stroke="#000" stroke-width="1.4" stroke-linejoin="miter"/>
<path d="M310.59 449.48L314.99 458.08L306.19 458.08Z" fill="#FFFF00" stroke="#000" stroke-width="1.4" stroke-linejoin="miter"/>
<path d="M315.75 451.68L320.15 460.28L311.35 460.28Z" fill="#FFFF00" stroke="#000" stroke-width="1.4" stroke-linejoin="miter"/>
<path d="M320.91 453.76L325.31 462.36L316.51 462.36Z" fill="#FFFF00" stroke="#000" stroke-width="1.4" stroke-linejoin="miter"/>
<rect x="99.62" y="301.49" width="8.40" height="8.40" fill="#92D050" stroke="#000" stroke-width="1.4"/>
<rect x="104.76" y="306.77" width="8.40" height="8.40" fill="#92D050" stroke="#000" stroke-width="1.4"/>
<rect x="109.90" y="310.86" width="8.40" height="8.40" fill="#92D050" stroke="#000" stroke-width="1.4"/>
<rect x="115.04" y="314.27" width="8.40" height="8.40" fill="#92D050" stroke="#000" stroke-width="1.4"/>
<rect x="120.18" y="317.53" width="8.40" height="8.40" fill="#92D050" stroke="#000" stroke-width="1.4"/>
<rect x="125.32" y="320.70" width="8.40" height="8.40" fill="#92D050" stroke="#000" stroke-width="1.4"/>
<rect x="130.45" y="323.54" width="8.40" height="8.40" fill="#92D050" stroke="#000" stroke-width="1.4"/>
<rect x="135.59" y="326.18" width="8.40" height="8.40" fill="#92D050" stroke="#000" stroke-width="1.4"/>
<rect x="140.73" y="328.49" width="8.40" height="8.40" fill="#92D050" stroke="#000" stroke-width="1.4"/>
<rect x="145.87" y="330.17" width="8.40" height="8.40" fill="#92D050" stroke="#000" stroke-width="1.4"/>
<rect x="151.01" y="331.42" width="8.40" height="8.40" fill="#92D050" stroke="#000" stroke-width="1.4"/>
<rect x="156.15" y="332.53" width="8.40" height="8.40" fill="#92D050" stroke="#000" stroke-width="1.4"/>
<rect x="161.28" y="333.65" width="8.40" height="8.40" fill="#92D050" stroke="#000" stroke-width="1.4"/>
<rect x="166.42" y="334.74" width="8.40" height="8.40" fill="#92D050" stroke="#000" stroke-width="1.4"/>
<rect x="171.56" y="335.74" width="8.40" height="8.40" fill="#92D050" stroke="#000" stroke-width="1.4"/>
<rect x="176.70" y="336.65" width="8.40" height="8.40" fill="#92D050" stroke="#000" stroke-width="1.4"/>
<rect x="181.84" y="337.46" width="8.40" height="8.40" fill="#92D050" stroke="#000" stroke-width="1.4"/>
<rect x="186.98" y="338.07" width="8.40" height="8.40" fill="#92D050" stroke="#000" stroke-width="1.4"/>
<rect x="192.11" y="338.54" width="8.40" height="8.40" fill="#92D050" stroke="#000" stroke-width="1.4"/>
<rect x="197.25" y="335.69" width="8.40" height="8.40" fill="#92D050" stroke="#000" stroke-width="1.4"/>
<rect x="202.39" y="339.46" width="8.40" height="8.40" fill="#92D050" stroke="#000" stroke-width="1.4"/>
<rect x="207.53" y="339.94" width="8.40" height="8.40" fill="#92D050" stroke="#000" stroke-width="1.4"/>
<rect x="212.67" y="340.42" width="8.40" height="8.40" fill="#92D050" stroke="#000" stroke-width="1.4"/>
<rect x="217.81" y="340.97" width="8.40" height="8.40" fill="#92D050" stroke="#000" stroke-width="1.4"/>
<rect x="222.95" y="341.64" width="8.40" height="8.40" fill="#92D050" stroke="#000" stroke-width="1.4"/>
<rect x="228.08" y="342.58" width="8.40" height="8.40" fill="#92D050" stroke="#000" stroke-width="1.4"/>
<rect x="233.22" y="343.90" width="8.40" height="8.40" fill="#92D050" stroke="#000" stroke-width="1.4"/>
<rect x="238.36" y="345.54" width="8.40" height="8.40" fill="#92D050" stroke="#000" stroke-width="1.4"/>
<rect x="243.50" y="347.52" width="8.40" height="8.40" fill="#92D050" stroke="#000" stroke-width="1.4"/>
<rect x="248.64" y="350.04" width="8.40" height="8.40" fill="#92D050" stroke="#000" stroke-width="1.4"/>
<rect x="253.78" y="353.16" width="8.40" height="8.40" fill="#92D050" stroke="#000" stroke-width="1.4"/>
<rect x="258.91" y="357.17" width="8.40" height="8.40" fill="#92D050" stroke="#000" stroke-width="1.4"/>
<rect x="264.05" y="362.94" width="8.40" height="8.40" fill="#92D050" stroke="#000" stroke-width="1.4"/>
<rect x="269.19" y="368.70" width="8.40" height="8.40" fill="#92D050" stroke="#000" stroke-width="1.4"/>
<rect x="274.33" y="373.97" width="8.40" height="8.40" fill="#92D050" stroke="#000" stroke-width="1.4"/>
<rect x="279.47" y="379.71" width="8.40" height="8.40" fill="#92D050" stroke="#000" stroke-width="1.4"/>
<rect x="284.61" y="386.14" width="8.40" height="8.40" fill="#92D050" stroke="#000" stroke-width="1.4"/>
<rect x="289.74" y="391.97" width="8.40" height="8.40" fill="#92D050" stroke="#000" stroke-width="1.4"/>
<rect x="294.88" y="397.30" width="8.40" height="8.40" fill="#92D050" stroke="#000" stroke-width="1.4"/>
<rect x="300.02" y="403.19" width="8.40" height="8.40" fill="#92D050" stroke="#000" stroke-width="1.4"/>
<rect x="305.16" y="409.80" width="8.40" height="8.40" fill="#92D050" stroke="#000" stroke-width="1.4"/>
<rect x="310.30" y="417.63" width="8.40" height="8.40" fill="#92D050" stroke="#000" stroke-width="1.4"/>
<rect x="315.44" y="427.50" width="8.40" height="8.40" fill="#92D050" stroke="#000" stroke-width="1.4"/>
</g>
<path d="M69.6 491.0h4.6M69.6 449.8h4.6M69.6 408.6h4.6M69.6 367.5h4.6M69.6 326.3h4.6M69.6 285.1h4.6M69.6 491.0v-4.6M120.7 491.0v-4.6M171.8 491.0v-4.6M222.8 491.0v-4.6M273.9 491.0v-4.6M325.0 491.0v-4.6" stroke="#000" stroke-width="1.7" fill="none"/>
<rect x="69.6" y="285.1" width="255.4" height="205.9" fill="none" stroke="#000" stroke-width="2.1"/>
<text transform="translate(55.80,495.90) scale(0.97,1)" text-anchor="end" font-family='"Liberation Serif", serif' font-size="15.7">0</text>
<text transform="translate(55.80,454.72) scale(0.97,1)" text-anchor="end" font-family='"Liberation Serif", serif' font-size="15.7">0.5</text>
<text transform="translate(55.80,413.54) scale(0.97,1)" text-anchor="end" font-family='"Liberation Serif", serif' font-size="15.7">1</text>
<text transform="translate(55.80,372.36) scale(0.97,1)" text-anchor="end" font-family='"Liberation Serif", serif' font-size="15.7">1.5</text>
<text transform="translate(55.80,331.18) scale(0.97,1)" text-anchor="end" font-family='"Liberation Serif", serif' font-size="15.7">2</text>
<text transform="translate(55.80,290.00) scale(0.97,1)" text-anchor="end" font-family='"Liberation Serif", serif' font-size="15.7">2.5</text>
<text transform="translate(69.60,513.80) scale(0.97,1)" text-anchor="middle" font-family='"Liberation Serif", serif' font-size="15.7">0</text>
<text transform="translate(120.68,513.80) scale(0.97,1)" text-anchor="middle" font-family='"Liberation Serif", serif' font-size="15.7">20</text>
<text transform="translate(171.76,513.80) scale(0.97,1)" text-anchor="middle" font-family='"Liberation Serif", serif' font-size="15.7">40</text>
<text transform="translate(222.84,513.80) scale(0.97,1)" text-anchor="middle" font-family='"Liberation Serif", serif' font-size="15.7">60</text>
<text transform="translate(273.92,513.80) scale(0.97,1)" text-anchor="middle" font-family='"Liberation Serif", serif' font-size="15.7">80</text>
<text transform="translate(325.00,513.80) scale(0.97,1)" text-anchor="middle" font-family='"Liberation Serif", serif' font-size="15.7">100</text>
<text x="123.7" y="538.1" font-family='"Liberation Serif", serif' font-size="22.6">Temperature (</text>
<circle cx="250.95" cy="526.30" r="2.8" fill="none" stroke="#000" stroke-width="1.05"/>
<text x="254.90" y="538.1" font-family='"Liberation Serif", serif' font-size="23.8">C</text>
<text x="269.40" y="538.1" font-family='"Liberation Serif", serif' font-size="22.6">)</text>
<clipPath id="c4"><rect x="422.4" y="285.4" width="253.2" height="208.0"/></clipPath>
<g clip-path="url(#c4)">
<path d="M456.06 304.77L460.01 308.72L456.06 312.67L452.11 308.72Z" fill="#00B0F0" stroke="#000" stroke-width="1.4" stroke-linejoin="miter"/>
<path d="M461.13 308.35L465.08 312.30L461.13 316.25L457.18 312.30Z" fill="#00B0F0" stroke="#000" stroke-width="1.4" stroke-linejoin="miter"/>
<path d="M466.21 311.60L470.16 315.55L466.21 319.50L462.26 315.55Z" fill="#00B0F0" stroke="#000" stroke-width="1.4" stroke-linejoin="miter"/>
<path d="M471.29 314.19L475.24 318.14L471.29 322.09L467.34 318.14Z" fill="#00B0F0" stroke="#000" stroke-width="1.4" stroke-linejoin="miter"/>
<path d="M476.37 315.92L480.32 319.87L476.37 323.82L472.42 319.87Z" fill="#00B0F0" stroke="#000" stroke-width="1.4" stroke-linejoin="miter"/>
<path d="M481.45 317.36L485.40 321.31L481.45 325.26L477.50 321.31Z" fill="#00B0F0" stroke="#000" stroke-width="1.4" stroke-linejoin="miter"/>
<path d="M486.52 318.60L490.47 322.55L486.52 326.50L482.57 322.55Z" fill="#00B0F0" stroke="#000" stroke-width="1.4" stroke-linejoin="miter"/>
<path d="M491.60 319.67L495.55 323.62L491.60 327.57L487.65 323.62Z" fill="#00B0F0" stroke="#000" stroke-width="1.4" stroke-linejoin="miter"/>
<path d="M496.68 320.58L500.63 324.53L496.68 328.48L492.73 324.53Z" fill="#00B0F0" stroke="#000" stroke-width="1.4" stroke-linejoin="miter"/>
<path d="M501.76 321.35L505.71 325.30L501.76 329.25L497.81 325.30Z" fill="#00B0F0" stroke="#000" stroke-width="1.4" stroke-linejoin="miter"/>
<path d="M506.83 322.00L510.78 325.95L506.83 329.90L502.88 325.95Z" fill="#00B0F0" stroke="#000" stroke-width="1.4" stroke-linejoin="miter"/>
<path d="M511.91 322.60L515.86 326.55L511.91 330.50L507.96 326.55Z" fill="#00B0F0" stroke="#000" stroke-width="1.4" stroke-linejoin="miter"/>
<path d="M516.99 323.18L520.94 327.13L516.99 331.08L513.04 327.13Z" fill="#00B0F0" stroke="#000" stroke-width="1.4" stroke-linejoin="miter"/>
<path d="M522.07 323.74L526.02 327.69L522.07 331.64L518.12 327.69Z" fill="#00B0F0" stroke="#000" stroke-width="1.4" stroke-linejoin="miter"/>
<path d="M527.15 324.24L531.10 328.19L527.15 332.14L523.20 328.19Z" fill="#00B0F0" stroke="#000" stroke-width="1.4" stroke-linejoin="miter"/>
<path d="M532.22 324.67L536.17 328.62L532.22 332.57L528.27 328.62Z" fill="#00B0F0" stroke="#000" stroke-width="1.4" stroke-linejoin="miter"/>
<path d="M537.30 325.01L541.25 328.96L537.30 332.91L533.35 328.96Z" fill="#00B0F0" stroke="#000" stroke-width="1.4" stroke-linejoin="miter"/>
<path d="M542.38 325.25L546.33 329.20L542.38 333.15L538.43 329.20Z" fill="#00B0F0" stroke="#000" stroke-width="1.4" stroke-linejoin="miter"/>
<path d="M547.46 325.36L551.41 329.31L547.46 333.26L543.51 329.31Z" fill="#00B0F0" stroke="#000" stroke-width="1.4" stroke-linejoin="miter"/>
<path d="M552.53 325.37L556.48 329.32L552.53 333.27L548.58 329.32Z" fill="#00B0F0" stroke="#000" stroke-width="1.4" stroke-linejoin="miter"/>
<path d="M557.61 325.37L561.56 329.32L557.61 333.27L553.66 329.32Z" fill="#00B0F0" stroke="#000" stroke-width="1.4" stroke-linejoin="miter"/>
<path d="M562.69 325.37L566.64 329.32L562.69 333.27L558.74 329.32Z" fill="#00B0F0" stroke="#000" stroke-width="1.4" stroke-linejoin="miter"/>
<path d="M567.77 325.37L571.72 329.32L567.77 333.27L563.82 329.32Z" fill="#00B0F0" stroke="#000" stroke-width="1.4" stroke-linejoin="miter"/>
<path d="M572.85 325.37L576.80 329.32L572.85 333.27L568.90 329.32Z" fill="#00B0F0" stroke="#000" stroke-width="1.4" stroke-linejoin="miter"/>
<path d="M577.92 325.37L581.87 329.32L577.92 333.27L573.97 329.32Z" fill="#00B0F0" stroke="#000" stroke-width="1.4" stroke-linejoin="miter"/>
<path d="M583.00 325.37L586.95 329.32L583.00 333.27L579.05 329.32Z" fill="#00B0F0" stroke="#000" stroke-width="1.4" stroke-linejoin="miter"/>
<path d="M588.08 325.37L592.03 329.32L588.08 333.27L584.13 329.32Z" fill="#00B0F0" stroke="#000" stroke-width="1.4" stroke-linejoin="miter"/>
<path d="M593.16 325.59L597.11 329.54L593.16 333.49L589.21 329.54Z" fill="#00B0F0" stroke="#000" stroke-width="1.4" stroke-linejoin="miter"/>
<path d="M598.24 326.43L602.19 330.38L598.24 334.33L594.29 330.38Z" fill="#00B0F0" stroke="#000" stroke-width="1.4" stroke-linejoin="miter"/>
<path d="M603.31 327.74L607.26 331.69L603.31 335.64L599.36 331.69Z" fill="#00B0F0" stroke="#000" stroke-width="1.4" stroke-linejoin="miter"/>
<path d="M608.39 329.35L612.34 333.30L608.39 337.25L604.44 333.30Z" fill="#00B0F0" stroke="#000" stroke-width="1.4" stroke-linejoin="miter"/>
<path d="M613.47 331.15L617.42 335.10L613.47 339.05L609.52 335.10Z" fill="#00B0F0" stroke="#000" stroke-width="1.4" stroke-linejoin="miter"/>
<path d="M618.55 333.78L622.50 337.73L618.55 341.68L614.60 337.73Z" fill="#00B0F0" stroke="#000" stroke-width="1.4" stroke-linejoin="miter"/>
<path d="M623.62 337.26L627.57 341.21L623.62 345.16L619.67 341.21Z" fill="#00B0F0" stroke="#000" stroke-width="1.4" stroke-linejoin="miter"/>
<path d="M628.70 341.34L632.65 345.29L628.70 349.24L624.75 345.29Z" fill="#00B0F0" stroke="#000" stroke-width="1.4" stroke-linejoin="miter"/>
<path d="M633.78 346.12L637.73 350.07L633.78 354.02L629.83 350.07Z" fill="#00B0F0" stroke="#000" stroke-width="1.4" stroke-linejoin="miter"/>
<path d="M638.86 352.33L642.81 356.28L638.86 360.23L634.91 356.28Z" fill="#00B0F0" stroke="#000" stroke-width="1.4" stroke-linejoin="miter"/>
<path d="M643.94 358.59L647.89 362.54L643.94 366.49L639.99 362.54Z" fill="#00B0F0" stroke="#000" stroke-width="1.4" stroke-linejoin="miter"/>
<path d="M649.01 364.86L652.96 368.81L649.01 372.76L645.06 368.81Z" fill="#00B0F0" stroke="#000" stroke-width="1.4" stroke-linejoin="miter"/>
<path d="M654.09 372.43L658.04 376.38L654.09 380.33L650.14 376.38Z" fill="#00B0F0" stroke="#000" stroke-width="1.4" stroke-linejoin="miter"/>
<path d="M659.17 382.57L663.12 386.52L659.17 390.47L655.22 386.52Z" fill="#00B0F0" stroke="#000" stroke-width="1.4" stroke-linejoin="miter"/>
<path d="M664.25 391.70L668.20 395.65L664.25 399.60L660.30 395.65Z" fill="#00B0F0" stroke="#000" stroke-width="1.4" stroke-linejoin="miter"/>
<path d="M669.32 399.35L673.27 403.30L669.32 407.25L665.37 403.30Z" fill="#00B0F0" stroke="#000" stroke-width="1.4" stroke-linejoin="miter"/>
<circle cx="456.06" cy="308.72" r="3.85" fill="#FFC000" stroke="#000" stroke-width="1.4"/>
<circle cx="461.14" cy="312.65" r="3.85" fill="#FFC000" stroke="#000" stroke-width="1.4"/>
<circle cx="466.22" cy="315.97" r="3.85" fill="#FFC000" stroke="#000" stroke-width="1.4"/>
<circle cx="471.31" cy="318.65" r="3.85" fill="#FFC000" stroke="#000" stroke-width="1.4"/>
<circle cx="476.39" cy="320.83" r="3.85" fill="#FFC000" stroke="#000" stroke-width="1.4"/>
<circle cx="481.48" cy="322.46" r="3.85" fill="#FFC000" stroke="#000" stroke-width="1.4"/>
<circle cx="486.56" cy="323.84" r="3.85" fill="#FFC000" stroke="#000" stroke-width="1.4"/>
<circle cx="491.64" cy="324.53" r="3.85" fill="#FFC000" stroke="#000" stroke-width="1.4"/>
<circle cx="496.73" cy="324.73" r="3.85" fill="#FFC000" stroke="#000" stroke-width="1.4"/>
<circle cx="501.81" cy="324.84" r="3.85" fill="#FFC000" stroke="#000" stroke-width="1.4"/>
<circle cx="506.89" cy="324.79" r="3.85" fill="#FFC000" stroke="#000" stroke-width="1.4"/>
<circle cx="511.98" cy="324.48" r="3.85" fill="#FFC000" stroke="#000" stroke-width="1.4"/>
<circle cx="517.06" cy="324.12" r="3.85" fill="#FFC000" stroke="#000" stroke-width="1.4"/>
<circle cx="522.15" cy="323.74" r="3.85" fill="#FFC000" stroke="#000" stroke-width="1.4"/>
<circle cx="527.23" cy="323.29" r="3.85" fill="#FFC000" stroke="#000" stroke-width="1.4"/>
<circle cx="532.31" cy="322.80" r="3.85" fill="#FFC000" stroke="#000" stroke-width="1.4"/>
<circle cx="537.40" cy="322.24" r="3.85" fill="#FFC000" stroke="#000" stroke-width="1.4"/>
<circle cx="542.48" cy="321.62" r="3.85" fill="#FFC000" stroke="#000" stroke-width="1.4"/>
<circle cx="547.56" cy="320.97" r="3.85" fill="#FFC000" stroke="#000" stroke-width="1.4"/>
<circle cx="552.65" cy="320.21" r="3.85" fill="#FFC000" stroke="#000" stroke-width="1.4"/>
<circle cx="557.73" cy="319.25" r="3.85" fill="#FFC000" stroke="#000" stroke-width="1.4"/>
<circle cx="562.82" cy="317.97" r="3.85" fill="#FFC000" stroke="#000" stroke-width="1.4"/>
<circle cx="567.90" cy="316.49" r="3.85" fill="#FFC000" stroke="#000" stroke-width="1.4"/>
<circle cx="572.98" cy="315.03" r="3.85" fill="#FFC000" stroke="#000" stroke-width="1.4"/>
<circle cx="578.07" cy="313.49" r="3.85" fill="#FFC000" stroke="#000" stroke-width="1.4"/>
<circle cx="583.15" cy="311.88" r="3.85" fill="#FFC000" stroke="#000" stroke-width="1.4"/>
<circle cx="588.24" cy="311.29" r="3.85" fill="#FFC000" stroke="#000" stroke-width="1.4"/>
<circle cx="593.32" cy="311.29" r="3.85" fill="#FFC000" stroke="#000" stroke-width="1.4"/>
<circle cx="598.40" cy="311.29" r="3.85" fill="#FFC000" stroke="#000" stroke-width="1.4"/>
<circle cx="603.49" cy="311.29" r="3.85" fill="#FFC000" stroke="#000" stroke-width="1.4"/>
<circle cx="608.57" cy="311.47" r="3.85" fill="#FFC000" stroke="#000" stroke-width="1.4"/>
<circle cx="613.65" cy="312.72" r="3.85" fill="#FFC000" stroke="#000" stroke-width="1.4"/>
<circle cx="618.74" cy="314.78" r="3.85" fill="#FFC000" stroke="#000" stroke-width="1.4"/>
<circle cx="623.82" cy="317.27" r="3.85" fill="#FFC000" stroke="#000" stroke-width="1.4"/>
<circle cx="628.91" cy="321.29" r="3.85" fill="#FFC000" stroke="#000" stroke-width="1.4"/>
<circle cx="633.99" cy="326.74" r="3.85" fill="#FFC000" stroke="#000" stroke-width="1.4"/>
<circle cx="639.07" cy="333.04" r="3.85" fill="#FFC000" stroke="#000" stroke-width="1.4"/>
<circle cx="644.16" cy="341.16" r="3.85" fill="#FFC000" stroke="#000" stroke-width="1.4"/>
<circle cx="649.24" cy="349.32" r="3.85" fill="#FFC000" stroke="#000" stroke-width="1.4"/>
<circle cx="654.32" cy="357.53" r="3.85" fill="#FFC000" stroke="#000" stroke-width="1.4"/>
<circle cx="659.41" cy="366.75" r="3.85" fill="#FFC000" stroke="#000" stroke-width="1.4"/>
<circle cx="664.49" cy="377.25" r="3.85" fill="#FFC000" stroke="#000" stroke-width="1.4"/>
<circle cx="669.58" cy="389.40" r="3.85" fill="#FFC000" stroke="#000" stroke-width="1.4"/>
<path d="M456.06 304.42L460.46 313.02L451.66 313.02Z" fill="#FFFF00" stroke="#000" stroke-width="1.4" stroke-linejoin="miter"/>
<path d="M461.13 308.00L465.53 316.60L456.73 316.60Z" fill="#FFFF00" stroke="#000" stroke-width="1.4" stroke-linejoin="miter"/>
<path d="M466.21 311.25L470.61 319.85L461.81 319.85Z" fill="#FFFF00" stroke="#000" stroke-width="1.4" stroke-linejoin="miter"/>
<path d="M471.29 313.84L475.69 322.44L466.89 322.44Z" fill="#FFFF00" stroke="#000" stroke-width="1.4" stroke-linejoin="miter"/>
<path d="M476.37 315.57L480.77 324.17L471.97 324.17Z" fill="#FFFF00" stroke="#000" stroke-width="1.4" stroke-linejoin="miter"/>
<path d="M481.45 316.99L485.85 325.59L477.05 325.59Z" fill="#FFFF00" stroke="#000" stroke-width="1.4" stroke-linejoin="miter"/>
<path d="M486.52 318.22L490.92 326.82L482.12 326.82Z" fill="#FFFF00" stroke="#000" stroke-width="1.4" stroke-linejoin="miter"/>
<path d="M491.60 319.28L496.00 327.88L487.20 327.88Z" fill="#FFFF00" stroke="#000" stroke-width="1.4" stroke-linejoin="miter"/>
<path d="M496.68 320.18L501.08 328.78L492.28 328.78Z" fill="#FFFF00" stroke="#000" stroke-width="1.4" stroke-linejoin="miter"/>
<path d="M501.76 320.96L506.16 329.56L497.36 329.56Z" fill="#FFFF00" stroke="#000" stroke-width="1.4" stroke-linejoin="miter"/>
<path d="M506.83 321.62L511.23 330.22L502.43 330.22Z" fill="#FFFF00" stroke="#000" stroke-width="1.4" stroke-linejoin="miter"/>
<path d="M511.91 322.24L516.31 330.84L507.51 330.84Z" fill="#FFFF00" stroke="#000" stroke-width="1.4" stroke-linejoin="miter"/>
<path d="M516.99 322.84L521.39 331.44L512.59 331.44Z" fill="#FFFF00" stroke="#000" stroke-width="1.4" stroke-linejoin="miter"/>
<path d="M522.07 323.38L526.47 331.98L517.67 331.98Z" fill="#FFFF00" stroke="#000" stroke-width="1.4" stroke-linejoin="miter"/>
<path d="M527.15 323.81L531.55 332.41L522.75 332.41Z" fill="#FFFF00" stroke="#000" stroke-width="1.4" stroke-linejoin="miter"/>
<path d="M532.22 324.08L536.62 332.68L527.82 332.68Z" fill="#FFFF00" stroke="#000" stroke-width="1.4" stroke-linejoin="miter"/>
<path d="M537.30 324.16L541.70 332.76L532.90 332.76Z" fill="#FFFF00" stroke="#000" stroke-width="1.4" stroke-linejoin="miter"/>
<path d="M542.38 324.09L546.78 332.69L537.98 332.69Z" fill="#FFFF00" stroke="#000" stroke-width="1.4" stroke-linejoin="miter"/>
<path d="M547.46 323.97L551.86 332.57L543.06 332.57Z" fill="#FFFF00" stroke="#000" stroke-width="1.4" stroke-linejoin="miter"/>
<path d="M552.53 323.85L556.93 332.45L548.13 332.45Z" fill="#FFFF00" stroke="#000" stroke-width="1.4" stroke-linejoin="miter"/>
<path d="M557.61 323.74L562.01 332.34L553.21 332.34Z" fill="#FFFF00" stroke="#000" stroke-width="1.4" stroke-linejoin="miter"/>
<path d="M562.69 323.62L567.09 332.22L558.29 332.22Z" fill="#FFFF00" stroke="#000" stroke-width="1.4" stroke-linejoin="miter"/>
<path d="M567.77 323.50L572.17 332.10L563.37 332.10Z" fill="#FFFF00" stroke="#000" stroke-width="1.4" stroke-linejoin="miter"/>
<path d="M572.85 323.38L577.25 331.98L568.45 331.98Z" fill="#FFFF00" stroke="#000" stroke-width="1.4" stroke-linejoin="miter"/>
<path d="M577.92 323.27L582.32 331.87L573.52 331.87Z" fill="#FFFF00" stroke="#000" stroke-width="1.4" stroke-linejoin="miter"/>
<path d="M583.00 323.19L587.40 331.79L578.60 331.79Z" fill="#FFFF00" stroke="#000" stroke-width="1.4" stroke-linejoin="miter"/>
<path d="M588.08 323.14L592.48 331.74L583.68 331.74Z" fill="#FFFF00" stroke="#000" stroke-width="1.4" stroke-linejoin="miter"/>
<path d="M593.16 323.18L597.56 331.78L588.76 331.78Z" fill="#FFFF00" stroke="#000" stroke-width="1.4" stroke-linejoin="miter"/>
<path d="M598.24 323.91L602.64 332.51L593.84 332.51Z" fill="#FFFF00" stroke="#000" stroke-width="1.4" stroke-linejoin="miter"/>
<path d="M603.31 325.21L607.71 333.81L598.91 333.81Z" fill="#FFFF00" stroke="#000" stroke-width="1.4" stroke-linejoin="miter"/>
<path d="M608.39 326.71L612.79 335.31L603.99 335.31Z" fill="#FFFF00" stroke="#000" stroke-width="1.4" stroke-linejoin="miter"/>
<path d="M613.47 328.12L617.87 336.72L609.07 336.72Z" fill="#FFFF00" stroke="#000" stroke-width="1.4" stroke-linejoin="miter"/>
<path d="M618.55 329.59L622.95 338.19L614.15 338.19Z" fill="#FFFF00" stroke="#000" stroke-width="1.4" stroke-linejoin="miter"/>
<path d="M623.62 331.35L628.02 339.95L619.22 339.95Z" fill="#FFFF00" stroke="#000" stroke-width="1.4" stroke-linejoin="miter"/>
<path d="M628.70 333.66L633.10 342.26L624.30 342.26Z" fill="#FFFF00" stroke="#000" stroke-width="1.4" stroke-linejoin="miter"/>
<path d="M633.78 337.04L638.18 345.64L629.38 345.64Z" fill="#FFFF00" stroke="#000" stroke-width="1.4" stroke-linejoin="miter"/>
<path d="M638.86 343.70L643.26 352.30L634.46 352.30Z" fill="#FFFF00" stroke="#000" stroke-width="1.4" stroke-linejoin="miter"/>
<path d="M643.94 351.21L648.34 359.81L639.54 359.81Z" fill="#FFFF00" stroke="#000" stroke-width="1.4" stroke-linejoin="miter"/>
<path d="M649.01 359.19L653.41 367.79L644.61 367.79Z" fill="#FFFF00" stroke="#000" stroke-width="1.4" stroke-linejoin="miter"/>
<path d="M654.09 367.65L658.49 376.25L649.69 376.25Z" fill="#FFFF00" stroke="#000" stroke-width="1.4" stroke-linejoin="miter"/>
<path d="M659.17 376.64L663.57 385.24L654.77 385.24Z" fill="#FFFF00" stroke="#000" stroke-width="1.4" stroke-linejoin="miter"/>
<path d="M664.25 384.19L668.65 392.79L659.85 392.79Z" fill="#FFFF00" stroke="#000" stroke-width="1.4" stroke-linejoin="miter"/>
<path d="M669.32 390.25L673.72 398.85L664.92 398.85Z" fill="#FFFF00" stroke="#000" stroke-width="1.4" stroke-linejoin="miter"/>
<rect x="452.36" y="298.85" width="8.40" height="8.40" fill="#92D050" stroke="#000" stroke-width="1.4"/>
<rect x="457.40" y="305.70" width="8.40" height="8.40" fill="#92D050" stroke="#000" stroke-width="1.4"/>
<rect x="462.44" y="309.01" width="8.40" height="8.40" fill="#92D050" stroke="#000" stroke-width="1.4"/>
<rect x="467.48" y="311.45" width="8.40" height="8.40" fill="#92D050" stroke="#000" stroke-width="1.4"/>
<rect x="472.53" y="314.35" width="8.40" height="8.40" fill="#92D050" stroke="#000" stroke-width="1.4"/>
<rect x="477.57" y="318.34" width="8.40" height="8.40" fill="#92D050" stroke="#000" stroke-width="1.4"/>
<rect x="482.61" y="322.35" width="8.40" height="8.40" fill="#92D050" stroke="#000" stroke-width="1.4"/>
<rect x="487.65" y="325.13" width="8.40" height="8.40" fill="#92D050" stroke="#000" stroke-width="1.4"/>
<rect x="492.69" y="327.14" width="8.40" height="8.40" fill="#92D050" stroke="#000" stroke-width="1.4"/>
<rect x="497.74" y="328.77" width="8.40" height="8.40" fill="#92D050" stroke="#000" stroke-width="1.4"/>
<rect x="502.78" y="330.17" width="8.40" height="8.40" fill="#92D050" stroke="#000" stroke-width="1.4"/>
<rect x="507.82" y="331.47" width="8.40" height="8.40" fill="#92D050" stroke="#000" stroke-width="1.4"/>
<rect x="512.86" y="332.65" width="8.40" height="8.40" fill="#92D050" stroke="#000" stroke-width="1.4"/>
<rect x="517.90" y="333.69" width="8.40" height="8.40" fill="#92D050" stroke="#000" stroke-width="1.4"/>
<rect x="522.95" y="334.56" width="8.40" height="8.40" fill="#92D050" stroke="#000" stroke-width="1.4"/>
<rect x="527.99" y="335.27" width="8.40" height="8.40" fill="#92D050" stroke="#000" stroke-width="1.4"/>
<rect x="533.03" y="335.83" width="8.40" height="8.40" fill="#92D050" stroke="#000" stroke-width="1.4"/>
<rect x="538.07" y="336.30" width="8.40" height="8.40" fill="#92D050" stroke="#000" stroke-width="1.4"/>
<rect x="543.11" y="336.77" width="8.40" height="8.40" fill="#92D050" stroke="#000" stroke-width="1.4"/>
<rect x="548.16" y="337.28" width="8.40" height="8.40" fill="#92D050" stroke="#000" stroke-width="1.4"/>
<rect x="553.20" y="337.88" width="8.40" height="8.40" fill="#92D050" stroke="#000" stroke-width="1.4"/>
<rect x="558.24" y="338.51" width="8.40" height="8.40" fill="#92D050" stroke="#000" stroke-width="1.4"/>
<rect x="563.28" y="339.19" width="8.40" height="8.40" fill="#92D050" stroke="#000" stroke-width="1.4"/>
<rect x="568.32" y="339.95" width="8.40" height="8.40" fill="#92D050" stroke="#000" stroke-width="1.4"/>
<rect x="573.37" y="340.82" width="8.40" height="8.40" fill="#92D050" stroke="#000" stroke-width="1.4"/>
<rect x="578.41" y="341.82" width="8.40" height="8.40" fill="#92D050" stroke="#000" stroke-width="1.4"/>
<rect x="583.45" y="342.99" width="8.40" height="8.40" fill="#92D050" stroke="#000" stroke-width="1.4"/>
<rect x="588.49" y="344.39" width="8.40" height="8.40" fill="#92D050" stroke="#000" stroke-width="1.4"/>
<rect x="593.53" y="346.06" width="8.40" height="8.40" fill="#92D050" stroke="#000" stroke-width="1.4"/>
<rect x="598.57" y="348.27" width="8.40" height="8.40" fill="#92D050" stroke="#000" stroke-width="1.4"/>
<rect x="603.62" y="351.19" width="8.40" height="8.40" fill="#92D050" stroke="#000" stroke-width="1.4"/>
<rect x="608.66" y="354.73" width="8.40" height="8.40" fill="#92D050" stroke="#000" stroke-width="1.4"/>
<rect x="613.70" y="359.69" width="8.40" height="8.40" fill="#92D050" stroke="#000" stroke-width="1.4"/>
<rect x="618.74" y="365.16" width="8.40" height="8.40" fill="#92D050" stroke="#000" stroke-width="1.4"/>
<rect x="623.78" y="370.58" width="8.40" height="8.40" fill="#92D050" stroke="#000" stroke-width="1.4"/>
<rect x="628.83" y="376.44" width="8.40" height="8.40" fill="#92D050" stroke="#000" stroke-width="1.4"/>
<rect x="633.87" y="382.93" width="8.40" height="8.40" fill="#92D050" stroke="#000" stroke-width="1.4"/>
<rect x="638.91" y="390.08" width="8.40" height="8.40" fill="#92D050" stroke="#000" stroke-width="1.4"/>
<rect x="643.95" y="398.12" width="8.40" height="8.40" fill="#92D050" stroke="#000" stroke-width="1.4"/>
<rect x="648.99" y="405.33" width="8.40" height="8.40" fill="#92D050" stroke="#000" stroke-width="1.4"/>
<rect x="654.04" y="411.68" width="8.40" height="8.40" fill="#92D050" stroke="#000" stroke-width="1.4"/>
<rect x="659.08" y="419.13" width="8.40" height="8.40" fill="#92D050" stroke="#000" stroke-width="1.4"/>
<rect x="664.12" y="428.12" width="8.40" height="8.40" fill="#92D050" stroke="#000" stroke-width="1.4"/>
</g>
<path d="M423.4 492.4h4.6M423.4 458.1h4.6M423.4 423.7h4.6M423.4 389.4h4.6M423.4 355.1h4.6M423.4 320.7h4.6M423.4 286.4h4.6M423.4 492.4v-4.6M473.6 492.4v-4.6M523.9 492.4v-4.6M574.1 492.4v-4.6M624.4 492.4v-4.6M674.6 492.4v-4.6" stroke="#000" stroke-width="1.7" fill="none"/>
<rect x="423.4" y="286.4" width="251.2" height="206.0" fill="none" stroke="#000" stroke-width="2.1"/>
<text transform="translate(409.60,497.70) scale(0.97,1)" text-anchor="end" font-family='"Liberation Serif", serif' font-size="15.7">0</text>
<text transform="translate(409.60,463.37) scale(0.97,1)" text-anchor="end" font-family='"Liberation Serif", serif' font-size="15.7">20</text>
<text transform="translate(409.60,429.03) scale(0.97,1)" text-anchor="end" font-family='"Liberation Serif", serif' font-size="15.7">40</text>
<text transform="translate(409.60,394.70) scale(0.97,1)" text-anchor="end" font-family='"Liberation Serif", serif' font-size="15.7">60</text>
<text transform="translate(409.60,360.37) scale(0.97,1)" text-anchor="end" font-family='"Liberation Serif", serif' font-size="15.7">80</text>
<text transform="translate(409.60,326.03) scale(0.97,1)" text-anchor="end" font-family='"Liberation Serif", serif' font-size="15.7">100</text>
<text transform="translate(409.60,291.70) scale(0.97,1)" text-anchor="end" font-family='"Liberation Serif", serif' font-size="15.7">120</text>
<text transform="translate(423.40,516.10) scale(0.97,1)" text-anchor="middle" font-family='"Liberation Serif", serif' font-size="15.7">0</text>
<text transform="translate(473.64,516.10) scale(0.97,1)" text-anchor="middle" font-family='"Liberation Serif", serif' font-size="15.7">20</text>
<text transform="translate(523.88,516.10) scale(0.97,1)" text-anchor="middle" font-family='"Liberation Serif", serif' font-size="15.7">40</text>
<text transform="translate(574.12,516.10) scale(0.97,1)" text-anchor="middle" font-family='"Liberation Serif", serif' font-size="15.7">60</text>
<text transform="translate(624.36,516.10) scale(0.97,1)" text-anchor="middle" font-family='"Liberation Serif", serif' font-size="15.7">80</text>
<text transform="translate(674.60,516.10) scale(0.97,1)" text-anchor="middle" font-family='"Liberation Serif", serif' font-size="15.7">100</text>
<text x="468.7" y="544.8" font-family='"Liberation Serif", serif' font-size="22.6">Temperature (</text>
<circle cx="595.95" cy="533.00" r="2.8" fill="none" stroke="#000" stroke-width="1.05"/>
<text x="599.90" y="544.8" font-family='"Liberation Serif", serif' font-size="23.8">C</text>
<text x="614.40" y="544.8" font-family='"Liberation Serif", serif' font-size="22.6">)</text>
<clipPath id="c5"><rect x="71.1" y="560.0" width="249.4" height="208.9"/></clipPath>
<g clip-path="url(#c5)">
<path d="M102.78 702.22L106.73 706.17L102.78 710.12L98.83 706.17Z" fill="#00B0F0" stroke="#000" stroke-width="1.4" stroke-linejoin="miter"/>
<path d="M107.75 702.08L111.70 706.03L107.75 709.98L103.80 706.03Z" fill="#00B0F0" stroke="#000" stroke-width="1.4" stroke-linejoin="miter"/>
<path d="M112.72 701.86L116.67 705.81L112.72 709.76L108.77 705.81Z" fill="#00B0F0" stroke="#000" stroke-width="1.4" stroke-linejoin="miter"/>
<path d="M117.69 701.56L121.64 705.51L117.69 709.46L113.74 705.51Z" fill="#00B0F0" stroke="#000" stroke-width="1.4" stroke-linejoin="miter"/>
<path d="M122.66 701.23L126.61 705.18L122.66 709.13L118.71 705.18Z" fill="#00B0F0" stroke="#000" stroke-width="1.4" stroke-linejoin="miter"/>
<path d="M127.63 700.82L131.58 704.77L127.63 708.72L123.68 704.77Z" fill="#00B0F0" stroke="#000" stroke-width="1.4" stroke-linejoin="miter"/>
<path d="M132.60 700.32L136.55 704.27L132.60 708.22L128.65 704.27Z" fill="#00B0F0" stroke="#000" stroke-width="1.4" stroke-linejoin="miter"/>
<path d="M137.57 699.70L141.52 703.65L137.57 707.60L133.62 703.65Z" fill="#00B0F0" stroke="#000" stroke-width="1.4" stroke-linejoin="miter"/>
<path d="M142.55 698.97L146.50 702.92L142.55 706.87L138.60 702.92Z" fill="#00B0F0" stroke="#000" stroke-width="1.4" stroke-linejoin="miter"/>
<path d="M147.52 698.12L151.47 702.07L147.52 706.02L143.57 702.07Z" fill="#00B0F0" stroke="#000" stroke-width="1.4" stroke-linejoin="miter"/>
<path d="M152.49 696.86L156.44 700.81L152.49 704.76L148.54 700.81Z" fill="#00B0F0" stroke="#000" stroke-width="1.4" stroke-linejoin="miter"/>
<path d="M157.46 695.14L161.41 699.09L157.46 703.04L153.51 699.09Z" fill="#00B0F0" stroke="#000" stroke-width="1.4" stroke-linejoin="miter"/>
<path d="M162.43 693.14L166.38 697.09L162.43 701.04L158.48 697.09Z" fill="#00B0F0" stroke="#000" stroke-width="1.4" stroke-linejoin="miter"/>
<path d="M167.40 691.04L171.35 694.99L167.40 698.94L163.45 694.99Z" fill="#00B0F0" stroke="#000" stroke-width="1.4" stroke-linejoin="miter"/>
<path d="M172.37 689.03L176.32 692.98L172.37 696.93L168.42 692.98Z" fill="#00B0F0" stroke="#000" stroke-width="1.4" stroke-linejoin="miter"/>
<path d="M177.34 687.19L181.29 691.14L177.34 695.09L173.39 691.14Z" fill="#00B0F0" stroke="#000" stroke-width="1.4" stroke-linejoin="miter"/>
<path d="M182.31 685.40L186.26 689.35L182.31 693.30L178.36 689.35Z" fill="#00B0F0" stroke="#000" stroke-width="1.4" stroke-linejoin="miter"/>
<path d="M187.28 683.62L191.23 687.57L187.28 691.52L183.33 687.57Z" fill="#00B0F0" stroke="#000" stroke-width="1.4" stroke-linejoin="miter"/>
<path d="M192.26 681.83L196.21 685.78L192.26 689.73L188.31 685.78Z" fill="#00B0F0" stroke="#000" stroke-width="1.4" stroke-linejoin="miter"/>
<path d="M197.23 679.96L201.18 683.91L197.23 687.86L193.28 683.91Z" fill="#00B0F0" stroke="#000" stroke-width="1.4" stroke-linejoin="miter"/>
<path d="M202.20 677.98L206.15 681.93L202.20 685.88L198.25 681.93Z" fill="#00B0F0" stroke="#000" stroke-width="1.4" stroke-linejoin="miter"/>
<path d="M207.17 675.86L211.12 679.81L207.17 683.76L203.22 679.81Z" fill="#00B0F0" stroke="#000" stroke-width="1.4" stroke-linejoin="miter"/>
<path d="M212.14 673.54L216.09 677.49L212.14 681.44L208.19 677.49Z" fill="#00B0F0" stroke="#000" stroke-width="1.4" stroke-linejoin="miter"/>
<path d="M217.11 670.96L221.06 674.91L217.11 678.86L213.16 674.91Z" fill="#00B0F0" stroke="#000" stroke-width="1.4" stroke-linejoin="miter"/>
<path d="M222.08 668.04L226.03 671.99L222.08 675.94L218.13 671.99Z" fill="#00B0F0" stroke="#000" stroke-width="1.4" stroke-linejoin="miter"/>
<path d="M227.05 664.81L231.00 668.76L227.05 672.71L223.10 668.76Z" fill="#00B0F0" stroke="#000" stroke-width="1.4" stroke-linejoin="miter"/>
<path d="M232.02 661.35L235.97 665.30L232.02 669.25L228.07 665.30Z" fill="#00B0F0" stroke="#000" stroke-width="1.4" stroke-linejoin="miter"/>
<path d="M236.99 657.70L240.94 661.65L236.99 665.60L233.04 661.65Z" fill="#00B0F0" stroke="#000" stroke-width="1.4" stroke-linejoin="miter"/>
<path d="M241.97 653.92L245.92 657.87L241.97 661.82L238.02 657.87Z" fill="#00B0F0" stroke="#000" stroke-width="1.4" stroke-linejoin="miter"/>
<path d="M246.94 650.07L250.89 654.02L246.94 657.97L242.99 654.02Z" fill="#00B0F0" stroke="#000" stroke-width="1.4" stroke-linejoin="miter"/>
<path d="M251.91 646.04L255.86 649.99L251.91 653.94L247.96 649.99Z" fill="#00B0F0" stroke="#000" stroke-width="1.4" stroke-linejoin="miter"/>
<path d="M256.88 641.47L260.83 645.42L256.88 649.37L252.93 645.42Z" fill="#00B0F0" stroke="#000" stroke-width="1.4" stroke-linejoin="miter"/>
<path d="M261.85 636.78L265.80 640.73L261.85 644.68L257.90 640.73Z" fill="#00B0F0" stroke="#000" stroke-width="1.4" stroke-linejoin="miter"/>
<path d="M266.82 632.44L270.77 636.39L266.82 640.34L262.87 636.39Z" fill="#00B0F0" stroke="#000" stroke-width="1.4" stroke-linejoin="miter"/>
<path d="M271.79 628.82L275.74 632.77L271.79 636.72L267.84 632.77Z" fill="#00B0F0" stroke="#000" stroke-width="1.4" stroke-linejoin="miter"/>
<path d="M276.76 625.47L280.71 629.42L276.76 633.37L272.81 629.42Z" fill="#00B0F0" stroke="#000" stroke-width="1.4" stroke-linejoin="miter"/>
<path d="M281.73 622.43L285.68 626.38L281.73 630.33L277.78 626.38Z" fill="#00B0F0" stroke="#000" stroke-width="1.4" stroke-linejoin="miter"/>
<path d="M286.71 619.98L290.66 623.93L286.71 627.88L282.76 623.93Z" fill="#00B0F0" stroke="#000" stroke-width="1.4" stroke-linejoin="miter"/>
<path d="M291.68 618.35L295.63 622.30L291.68 626.25L287.73 622.30Z" fill="#00B0F0" stroke="#000" stroke-width="1.4" stroke-linejoin="miter"/>
<path d="M296.65 617.06L300.60 621.01L296.65 624.96L292.70 621.01Z" fill="#00B0F0" stroke="#000" stroke-width="1.4" stroke-linejoin="miter"/>
<path d="M301.62 616.48L305.57 620.43L301.62 624.38L297.67 620.43Z" fill="#00B0F0" stroke="#000" stroke-width="1.4" stroke-linejoin="miter"/>
<path d="M306.59 619.09L310.54 623.04L306.59 626.99L302.64 623.04Z" fill="#00B0F0" stroke="#000" stroke-width="1.4" stroke-linejoin="miter"/>
<path d="M311.56 622.21L315.51 626.16L311.56 630.11L307.61 626.16Z" fill="#00B0F0" stroke="#000" stroke-width="1.4" stroke-linejoin="miter"/>
<path d="M316.53 625.79L320.48 629.74L316.53 633.69L312.58 629.74Z" fill="#00B0F0" stroke="#000" stroke-width="1.4" stroke-linejoin="miter"/>
<circle cx="104.26" cy="711.92" r="3.85" fill="#FFC000" stroke="#000" stroke-width="1.4"/>
<circle cx="109.32" cy="711.88" r="3.85" fill="#FFC000" stroke="#000" stroke-width="1.4"/>
<circle cx="114.37" cy="711.76" r="3.85" fill="#FFC000" stroke="#000" stroke-width="1.4"/>
<circle cx="119.42" cy="711.58" r="3.85" fill="#FFC000" stroke="#000" stroke-width="1.4"/>
<circle cx="124.48" cy="711.34" r="3.85" fill="#FFC000" stroke="#000" stroke-width="1.4"/>
<circle cx="129.53" cy="711.05" r="3.85" fill="#FFC000" stroke="#000" stroke-width="1.4"/>
<circle cx="134.59" cy="710.73" r="3.85" fill="#FFC000" stroke="#000" stroke-width="1.4"/>
<circle cx="139.64" cy="710.15" r="3.85" fill="#FFC000" stroke="#000" stroke-width="1.4"/>
<circle cx="144.69" cy="709.23" r="3.85" fill="#FFC000" stroke="#000" stroke-width="1.4"/>
<circle cx="149.75" cy="708.02" r="3.85" fill="#FFC000" stroke="#000" stroke-width="1.4"/>
<circle cx="154.80" cy="706.60" r="3.85" fill="#FFC000" stroke="#000" stroke-width="1.4"/>
<circle cx="159.86" cy="705.01" r="3.85" fill="#FFC000" stroke="#000" stroke-width="1.4"/>
<circle cx="164.91" cy="703.32" r="3.85" fill="#FFC000" stroke="#000" stroke-width="1.4"/>
<circle cx="169.96" cy="701.60" r="3.85" fill="#FFC000" stroke="#000" stroke-width="1.4"/>
<circle cx="175.02" cy="699.80" r="3.85" fill="#FFC000" stroke="#000" stroke-width="1.4"/>
<circle cx="180.07" cy="697.72" r="3.85" fill="#FFC000" stroke="#000" stroke-width="1.4"/>
<circle cx="185.13" cy="695.40" r="3.85" fill="#FFC000" stroke="#000" stroke-width="1.4"/>
<circle cx="190.18" cy="692.88" r="3.85" fill="#FFC000" stroke="#000" stroke-width="1.4"/>
<circle cx="195.23" cy="690.19" r="3.85" fill="#FFC000" stroke="#000" stroke-width="1.4"/>
<circle cx="200.29" cy="687.38" r="3.85" fill="#FFC000" stroke="#000" stroke-width="1.4"/>
<circle cx="205.34" cy="684.48" r="3.85" fill="#FFC000" stroke="#000" stroke-width="1.4"/>
<circle cx="210.40" cy="681.51" r="3.85" fill="#FFC000" stroke="#000" stroke-width="1.4"/>
<circle cx="215.45" cy="678.30" r="3.85" fill="#FFC000" stroke="#000" stroke-width="1.4"/>
<circle cx="220.50" cy="674.86" r="3.85" fill="#FFC000" stroke="#000" stroke-width="1.4"/>
<circle cx="225.56" cy="671.25" r="3.85" fill="#FFC000" stroke="#000" stroke-width="1.4"/>
<circle cx="230.61" cy="667.53" r="3.85" fill="#FFC000" stroke="#000" stroke-width="1.4"/>
<circle cx="235.67" cy="663.78" r="3.85" fill="#FFC000" stroke="#000" stroke-width="1.4"/>
<circle cx="240.72" cy="660.05" r="3.85" fill="#FFC000" stroke="#000" stroke-width="1.4"/>
<circle cx="245.77" cy="656.18" r="3.85" fill="#FFC000" stroke="#000" stroke-width="1.4"/>
<circle cx="250.83" cy="651.99" r="3.85" fill="#FFC000" stroke="#000" stroke-width="1.4"/>
<circle cx="255.88" cy="647.25" r="3.85" fill="#FFC000" stroke="#000" stroke-width="1.4"/>
<circle cx="260.94" cy="641.20" r="3.85" fill="#FFC000" stroke="#000" stroke-width="1.4"/>
<circle cx="265.99" cy="635.55" r="3.85" fill="#FFC000" stroke="#000" stroke-width="1.4"/>
<circle cx="271.04" cy="631.51" r="3.85" fill="#FFC000" stroke="#000" stroke-width="1.4"/>
<circle cx="276.10" cy="626.78" r="3.85" fill="#FFC000" stroke="#000" stroke-width="1.4"/>
<circle cx="281.15" cy="621.92" r="3.85" fill="#FFC000" stroke="#000" stroke-width="1.4"/>
<circle cx="286.21" cy="618.26" r="3.85" fill="#FFC000" stroke="#000" stroke-width="1.4"/>
<circle cx="291.26" cy="615.22" r="3.85" fill="#FFC000" stroke="#000" stroke-width="1.4"/>
<circle cx="296.32" cy="613.12" r="3.85" fill="#FFC000" stroke="#000" stroke-width="1.4"/>
<circle cx="301.37" cy="613.10" r="3.85" fill="#FFC000" stroke="#000" stroke-width="1.4"/>
<circle cx="306.42" cy="615.85" r="3.85" fill="#FFC000" stroke="#000" stroke-width="1.4"/>
<circle cx="311.48" cy="618.17" r="3.85" fill="#FFC000" stroke="#000" stroke-width="1.4"/>
<circle cx="316.53" cy="621.35" r="3.85" fill="#FFC000" stroke="#000" stroke-width="1.4"/>
<path d="M105.25 704.86L109.65 713.46L100.85 713.46Z" fill="#FFFF00" stroke="#000" stroke-width="1.4" stroke-linejoin="miter"/>
<path d="M110.32 704.79L114.72 713.39L105.92 713.39Z" fill="#FFFF00" stroke="#000" stroke-width="1.4" stroke-linejoin="miter"/>
<path d="M115.39 704.59L119.79 713.19L110.99 713.19Z" fill="#FFFF00" stroke="#000" stroke-width="1.4" stroke-linejoin="miter"/>
<path d="M120.46 704.28L124.86 712.88L116.06 712.88Z" fill="#FFFF00" stroke="#000" stroke-width="1.4" stroke-linejoin="miter"/>
<path d="M125.53 703.86L129.93 712.46L121.13 712.46Z" fill="#FFFF00" stroke="#000" stroke-width="1.4" stroke-linejoin="miter"/>
<path d="M130.60 703.34L135.00 711.94L126.20 711.94Z" fill="#FFFF00" stroke="#000" stroke-width="1.4" stroke-linejoin="miter"/>
<path d="M135.66 702.75L140.06 711.35L131.26 711.35Z" fill="#FFFF00" stroke="#000" stroke-width="1.4" stroke-linejoin="miter"/>
<path d="M140.73 702.09L145.13 710.69L136.33 710.69Z" fill="#FFFF00" stroke="#000" stroke-width="1.4" stroke-linejoin="miter"/>
<path d="M145.80 701.37L150.20 709.97L141.40 709.97Z" fill="#FFFF00" stroke="#000" stroke-width="1.4" stroke-linejoin="miter"/>
<path d="M150.87 700.41L155.27 709.01L146.47 709.01Z" fill="#FFFF00" stroke="#000" stroke-width="1.4" stroke-linejoin="miter"/>
<path d="M155.94 698.82L160.34 707.42L151.54 707.42Z" fill="#FFFF00" stroke="#000" stroke-width="1.4" stroke-linejoin="miter"/>
<path d="M161.01 696.84L165.41 705.44L156.61 705.44Z" fill="#FFFF00" stroke="#000" stroke-width="1.4" stroke-linejoin="miter"/>
<path d="M166.08 694.71L170.48 703.31L161.68 703.31Z" fill="#FFFF00" stroke="#000" stroke-width="1.4" stroke-linejoin="miter"/>
<path d="M171.14 692.67L175.54 701.27L166.74 701.27Z" fill="#FFFF00" stroke="#000" stroke-width="1.4" stroke-linejoin="miter"/>
<path d="M176.21 690.91L180.61 699.51L171.81 699.51Z" fill="#FFFF00" stroke="#000" stroke-width="1.4" stroke-linejoin="miter"/>
<path d="M181.28 689.28L185.68 697.88L176.88 697.88Z" fill="#FFFF00" stroke="#000" stroke-width="1.4" stroke-linejoin="miter"/>
<path d="M186.35 687.69L190.75 696.29L181.95 696.29Z" fill="#FFFF00" stroke="#000" stroke-width="1.4" stroke-linejoin="miter"/>
<path d="M191.42 686.13L195.82 694.73L187.02 694.73Z" fill="#FFFF00" stroke="#000" stroke-width="1.4" stroke-linejoin="miter"/>
<path d="M196.49 684.53L200.89 693.13L192.09 693.13Z" fill="#FFFF00" stroke="#000" stroke-width="1.4" stroke-linejoin="miter"/>
<path d="M201.56 682.85L205.96 691.45L197.16 691.45Z" fill="#FFFF00" stroke="#000" stroke-width="1.4" stroke-linejoin="miter"/>
<path d="M206.63 681.06L211.03 689.66L202.23 689.66Z" fill="#FFFF00" stroke="#000" stroke-width="1.4" stroke-linejoin="miter"/>
<path d="M211.69 679.10L216.09 687.70L207.29 687.70Z" fill="#FFFF00" stroke="#000" stroke-width="1.4" stroke-linejoin="miter"/>
<path d="M216.76 676.93L221.16 685.53L212.36 685.53Z" fill="#FFFF00" stroke="#000" stroke-width="1.4" stroke-linejoin="miter"/>
<path d="M221.83 674.54L226.23 683.14L217.43 683.14Z" fill="#FFFF00" stroke="#000" stroke-width="1.4" stroke-linejoin="miter"/>
<path d="M226.90 671.94L231.30 680.54L222.50 680.54Z" fill="#FFFF00" stroke="#000" stroke-width="1.4" stroke-linejoin="miter"/>
<path d="M231.97 669.11L236.37 677.71L227.57 677.71Z" fill="#FFFF00" stroke="#000" stroke-width="1.4" stroke-linejoin="miter"/>
<path d="M237.04 666.04L241.44 674.64L232.64 674.64Z" fill="#FFFF00" stroke="#000" stroke-width="1.4" stroke-linejoin="miter"/>
<path d="M242.11 662.75L246.51 671.35L237.71 671.35Z" fill="#FFFF00" stroke="#000" stroke-width="1.4" stroke-linejoin="miter"/>
<path d="M247.17 659.07L251.57 667.67L242.77 667.67Z" fill="#FFFF00" stroke="#000" stroke-width="1.4" stroke-linejoin="miter"/>
<path d="M252.24 654.83L256.64 663.43L247.84 663.43Z" fill="#FFFF00" stroke="#000" stroke-width="1.4" stroke-linejoin="miter"/>
<path d="M257.31 650.23L261.71 658.83L252.91 658.83Z" fill="#FFFF00" stroke="#000" stroke-width="1.4" stroke-linejoin="miter"/>
<path d="M262.38 645.45L266.78 654.05L257.98 654.05Z" fill="#FFFF00" stroke="#000" stroke-width="1.4" stroke-linejoin="miter"/>
<path d="M267.45 640.44L271.85 649.04L263.05 649.04Z" fill="#FFFF00" stroke="#000" stroke-width="1.4" stroke-linejoin="miter"/>
<path d="M272.49 631.87L276.89 640.47L268.09 640.47Z" fill="#FFFF00" stroke="#000" stroke-width="1.4" stroke-linejoin="miter"/>
<path d="M277.44 626.82L281.84 635.42L273.04 635.42Z" fill="#FFFF00" stroke="#000" stroke-width="1.4" stroke-linejoin="miter"/>
<path d="M282.39 627.39L286.79 635.99L277.99 635.99Z" fill="#FFFF00" stroke="#000" stroke-width="1.4" stroke-linejoin="miter"/>
<path d="M287.09 625.09L291.49 633.69L282.69 633.69Z" fill="#FFFF00" stroke="#000" stroke-width="1.4" stroke-linejoin="miter"/>
<path d="M292.04 623.48L296.44 632.08L287.64 632.08Z" fill="#FFFF00" stroke="#000" stroke-width="1.4" stroke-linejoin="miter"/>
<path d="M297.23 621.07L301.63 629.67L292.83 629.67Z" fill="#FFFF00" stroke="#000" stroke-width="1.4" stroke-linejoin="miter"/>
<path d="M301.93 624.52L306.33 633.12L297.53 633.12Z" fill="#FFFF00" stroke="#000" stroke-width="1.4" stroke-linejoin="miter"/>
<path d="M307.38 623.71L311.78 632.31L302.98 632.31Z" fill="#FFFF00" stroke="#000" stroke-width="1.4" stroke-linejoin="miter"/>
<path d="M312.82 628.31L317.22 636.91L308.42 636.91Z" fill="#FFFF00" stroke="#000" stroke-width="1.4" stroke-linejoin="miter"/>
<path d="M313.81 619.92L318.21 628.52L309.41 628.52Z" fill="#FFFF00" stroke="#000" stroke-width="1.4" stroke-linejoin="miter"/>
<rect x="100.06" y="680.37" width="8.40" height="8.40" fill="#92D050" stroke="#000" stroke-width="1.4"/>
<rect x="105.10" y="680.95" width="8.40" height="8.40" fill="#92D050" stroke="#000" stroke-width="1.4"/>
<rect x="110.13" y="681.32" width="8.40" height="8.40" fill="#92D050" stroke="#000" stroke-width="1.4"/>
<rect x="115.17" y="681.53" width="8.40" height="8.40" fill="#92D050" stroke="#000" stroke-width="1.4"/>
<rect x="120.21" y="681.62" width="8.40" height="8.40" fill="#92D050" stroke="#000" stroke-width="1.4"/>
<rect x="125.24" y="681.61" width="8.40" height="8.40" fill="#92D050" stroke="#000" stroke-width="1.4"/>
<rect x="130.28" y="681.32" width="8.40" height="8.40" fill="#92D050" stroke="#000" stroke-width="1.4"/>
<rect x="135.32" y="680.74" width="8.40" height="8.40" fill="#92D050" stroke="#000" stroke-width="1.4"/>
<rect x="140.35" y="679.99" width="8.40" height="8.40" fill="#92D050" stroke="#000" stroke-width="1.4"/>
<rect x="145.39" y="679.17" width="8.40" height="8.40" fill="#92D050" stroke="#000" stroke-width="1.4"/>
<rect x="150.43" y="678.32" width="8.40" height="8.40" fill="#92D050" stroke="#000" stroke-width="1.4"/>
<rect x="155.46" y="677.27" width="8.40" height="8.40" fill="#92D050" stroke="#000" stroke-width="1.4"/>
<rect x="160.50" y="676.04" width="8.40" height="8.40" fill="#92D050" stroke="#000" stroke-width="1.4"/>
<rect x="165.53" y="674.62" width="8.40" height="8.40" fill="#92D050" stroke="#000" stroke-width="1.4"/>
<rect x="170.57" y="673.03" width="8.40" height="8.40" fill="#92D050" stroke="#000" stroke-width="1.4"/>
<rect x="175.61" y="671.13" width="8.40" height="8.40" fill="#92D050" stroke="#000" stroke-width="1.4"/>
<rect x="180.64" y="668.76" width="8.40" height="8.40" fill="#92D050" stroke="#000" stroke-width="1.4"/>
<rect x="185.68" y="666.05" width="8.40" height="8.40" fill="#92D050" stroke="#000" stroke-width="1.4"/>
<rect x="190.72" y="663.13" width="8.40" height="8.40" fill="#92D050" stroke="#000" stroke-width="1.4"/>
<rect x="195.75" y="660.06" width="8.40" height="8.40" fill="#92D050" stroke="#000" stroke-width="1.4"/>
<rect x="200.79" y="656.69" width="8.40" height="8.40" fill="#92D050" stroke="#000" stroke-width="1.4"/>
<rect x="205.83" y="653.00" width="8.40" height="8.40" fill="#92D050" stroke="#000" stroke-width="1.4"/>
<rect x="210.86" y="649.02" width="8.40" height="8.40" fill="#92D050" stroke="#000" stroke-width="1.4"/>
<rect x="215.90" y="644.70" width="8.40" height="8.40" fill="#92D050" stroke="#000" stroke-width="1.4"/>
<rect x="220.93" y="639.83" width="8.40" height="8.40" fill="#92D050" stroke="#000" stroke-width="1.4"/>
<rect x="225.97" y="634.60" width="8.40" height="8.40" fill="#92D050" stroke="#000" stroke-width="1.4"/>
<rect x="231.01" y="629.22" width="8.40" height="8.40" fill="#92D050" stroke="#000" stroke-width="1.4"/>
<rect x="236.04" y="623.82" width="8.40" height="8.40" fill="#92D050" stroke="#000" stroke-width="1.4"/>
<rect x="241.08" y="618.22" width="8.40" height="8.40" fill="#92D050" stroke="#000" stroke-width="1.4"/>
<rect x="246.12" y="612.53" width="8.40" height="8.40" fill="#92D050" stroke="#000" stroke-width="1.4"/>
<rect x="251.15" y="606.82" width="8.40" height="8.40" fill="#92D050" stroke="#000" stroke-width="1.4"/>
<rect x="256.19" y="601.01" width="8.40" height="8.40" fill="#92D050" stroke="#000" stroke-width="1.4"/>
<rect x="261.23" y="595.38" width="8.40" height="8.40" fill="#92D050" stroke="#000" stroke-width="1.4"/>
<rect x="266.26" y="589.02" width="8.40" height="8.40" fill="#92D050" stroke="#000" stroke-width="1.4"/>
<rect x="272.75" y="585.42" width="8.40" height="8.40" fill="#92D050" stroke="#000" stroke-width="1.4"/>
<rect x="276.95" y="586.57" width="8.40" height="8.40" fill="#92D050" stroke="#000" stroke-width="1.4"/>
<rect x="281.16" y="587.83" width="8.40" height="8.40" fill="#92D050" stroke="#000" stroke-width="1.4"/>
<rect x="286.11" y="588.06" width="8.40" height="8.40" fill="#92D050" stroke="#000" stroke-width="1.4"/>
<rect x="287.84" y="586.00" width="8.40" height="8.40" fill="#92D050" stroke="#000" stroke-width="1.4"/>
<rect x="291.30" y="591.28" width="8.40" height="8.40" fill="#92D050" stroke="#000" stroke-width="1.4"/>
<rect x="296.00" y="593.01" width="8.40" height="8.40" fill="#92D050" stroke="#000" stroke-width="1.4"/>
<rect x="300.95" y="598.18" width="8.40" height="8.40" fill="#92D050" stroke="#000" stroke-width="1.4"/>
<rect x="305.16" y="602.20" width="8.40" height="8.40" fill="#92D050" stroke="#000" stroke-width="1.4"/>
<rect x="308.13" y="605.77" width="8.40" height="8.40" fill="#92D050" stroke="#000" stroke-width="1.4"/>
<rect x="312.33" y="612.43" width="8.40" height="8.40" fill="#92D050" stroke="#000" stroke-width="1.4"/>
</g>
<path d="M72.1 767.9h4.6M72.1 721.9h4.6M72.1 675.9h4.6M72.1 630.0h4.6M72.1 584.0h4.6M72.1 767.9v-4.6M121.6 767.9v-4.6M171.1 767.9v-4.6M220.5 767.9v-4.6M270.0 767.9v-4.6M319.5 767.9v-4.6" stroke="#000" stroke-width="1.7" fill="none"/>
<rect x="72.1" y="561.0" width="247.4" height="206.9" fill="none" stroke="#000" stroke-width="2.1"/>
<text transform="translate(58.30,773.30) scale(0.97,1)" text-anchor="end" font-family='"Liberation Serif", serif' font-size="15.7">0</text>
<text transform="translate(58.30,727.32) scale(0.97,1)" text-anchor="end" font-family='"Liberation Serif", serif' font-size="15.7">0.04</text>
<text transform="translate(58.30,681.34) scale(0.97,1)" text-anchor="end" font-family='"Liberation Serif", serif' font-size="15.7">0.08</text>
<text transform="translate(58.30,635.37) scale(0.97,1)" text-anchor="end" font-family='"Liberation Serif", serif' font-size="15.7">0.12</text>
<text transform="translate(58.30,589.39) scale(0.97,1)" text-anchor="end" font-family='"Liberation Serif", serif' font-size="15.7">0.16</text>
<text transform="translate(72.10,791.00) scale(0.97,1)" text-anchor="middle" font-family='"Liberation Serif", serif' font-size="15.7">0</text>
<text transform="translate(121.58,791.00) scale(0.97,1)" text-anchor="middle" font-family='"Liberation Serif", serif' font-size="15.7">20</text>
<text transform="translate(171.06,791.00) scale(0.97,1)" text-anchor="middle" font-family='"Liberation Serif", serif' font-size="15.7">40</text>
<text transform="translate(220.54,791.00) scale(0.97,1)" text-anchor="middle" font-family='"Liberation Serif", serif' font-size="15.7">60</text>
<text transform="translate(270.02,791.00) scale(0.97,1)" text-anchor="middle" font-family='"Liberation Serif", serif' font-size="15.7">80</text>
<text transform="translate(319.50,791.00) scale(0.97,1)" text-anchor="middle" font-family='"Liberation Serif", serif' font-size="15.7">100</text>
<text x="123.7" y="813.9" font-family='"Liberation Serif", serif' font-size="22.6">Temperature (</text>
<circle cx="250.95" cy="802.10" r="2.8" fill="none" stroke="#000" stroke-width="1.05"/>
<text x="254.90" y="813.9" font-family='"Liberation Serif", serif' font-size="23.8">C</text>
<text x="269.40" y="813.9" font-family='"Liberation Serif", serif' font-size="22.6">)</text>
<g transform="translate(16.9,168.8) rotate(-90)" font-family='"Liberation Serif", serif'><text x="0.26" y="0.00" font-style="italic" font-size="22.6">E</text><text x="15.09" y="0.00" font-size="22.6">′</text><text x="23.21" y="0.00" font-size="22.6">(</text><text x="51.61" y="0.00" font-size="22.6">10</text><text x="73.24" y="-7.20" font-size="15">2</text><text x="83.55" y="0.00" font-size="22.6">MPa</text><text x="126.07" y="0.00" font-size="22.6">)</text></g>
<path d="M3.2 132.4L13.7 122.50000000000001M3.2 122.50000000000001L13.7 132.4" stroke="#000" stroke-width="1.2" fill="none"/>
<g transform="translate(372.8,180.4) rotate(-90)" font-family='"Liberation Serif", serif'><text x="-0.63" y="0.00" font-size="22.6" textLength="72.99" lengthAdjust="spacingAndGlyphs">Relative</text><text x="77.26" y="0.00" font-style="italic" font-size="22.6">E</text><text x="93.23" y="0.00" font-size="22.6">‘</text><text x="102.61" y="0.00" font-size="22.6">(</text><text x="110.14" y="0.00" font-size="22.6" textLength="18.63" lengthAdjust="spacingAndGlyphs">%</text><text x="128.57" y="0.00" font-size="22.6">)</text></g>
<g transform="translate(19.1,455.7) rotate(-90)" font-family='"Liberation Serif", serif'><text x="0.26" y="0.00" font-style="italic" font-size="22.6">E</text><text x="20.78" y="0.00" font-size="22.6">″</text><text x="32.71" y="0.00" font-size="22.6">(</text><text x="62.81" y="0.00" font-size="22.6">10</text><text x="86.95" y="0.00" font-size="22.6">MPa</text><text x="130.97" y="0.00" font-size="22.6">)</text></g>
<path d="M5.4 408.4L15.6 398.5M5.4 398.5L15.6 408.4" stroke="#000" stroke-width="1.2" fill="none"/>
<g transform="translate(379.0,476.5) rotate(-90)" font-family='"Liberation Serif", serif'><text x="-0.65" y="0.00" font-size="22.6" textLength="75.64" lengthAdjust="spacingAndGlyphs">Relative</text><text x="78.97" y="0.00" font-style="italic" font-size="22.6" textLength="14.30" lengthAdjust="spacingAndGlyphs">E</text><text x="99.48" y="0.00" font-size="22.6">″</text><text x="112.41" y="0.00" font-size="22.6">(</text><text x="119.41" y="0.00" font-size="22.6" textLength="19.17" lengthAdjust="spacingAndGlyphs">%</text><text x="138.07" y="0.00" font-size="22.6">)</text></g>
<g transform="translate(20.1,688.6) rotate(-90)" font-family='"Liberation Serif", serif'><text x="-0.22" y="0.00" font-size="22.6">tan</text><text x="26.44" y="0.00" font-style="italic" font-size="22.6">δ</text></g>
<circle cx="238.0" cy="18.8" r="8.9" fill="#FFC000" stroke="#000" stroke-width="1.5"/>
<path d="M238.0 36.5L248.3 53.6L227.7 53.6Z" fill="#FFFF00" stroke="#000" stroke-width="1.5"/>
<path d="M238.0 60.800000000000004L248.6 71.4L238.0 82.0L227.4 71.4Z" fill="#00B0F0" stroke="#000" stroke-width="1.5"/>
<rect x="229.9" y="89.10000000000001" width="16.2" height="16.2" fill="#92D050" stroke="#000" stroke-width="1.5"/>
<text x="248.6" y="27.3" font-family='"Liberation Sans", sans-serif' font-size="20">No. 2-1</text>
<text x="248.6" y="53.6" font-family='"Liberation Sans", sans-serif' font-size="20">No. 2-2</text>
<text x="248.6" y="79.7" font-family='"Liberation Sans", sans-serif' font-size="20">No. 2-3</text>
<text x="248.6" y="105.5" font-family='"Liberation Sans", sans-serif' font-size="20">No. 2-4</text>
</svg></body></html>
